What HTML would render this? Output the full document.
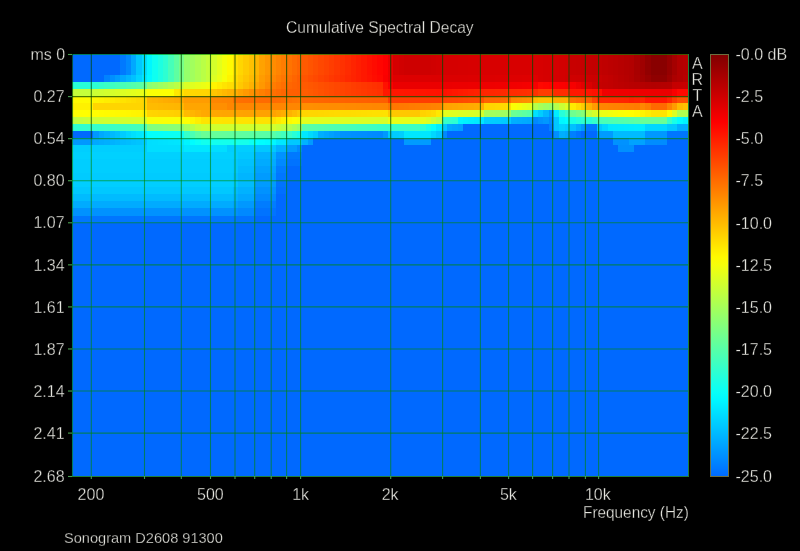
<!DOCTYPE html>
<html><head><meta charset="utf-8"><title>Cumulative Spectral Decay</title><style>
html,body{margin:0;padding:0;background:#000;}
body{width:800px;height:551px;overflow:hidden;position:relative;font-family:"Liberation Sans",Arial,sans-serif;color:#e4e4de;}
.t{position:absolute;white-space:pre;line-height:1;font-size:16px;transform-origin:0 0;-webkit-text-stroke:0.3px #000;}
svg{position:absolute;left:0;top:0;}
</style></head><body>
<svg width="800" height="551" viewBox="0 0 800 551" shape-rendering="crispEdges">
<defs><linearGradient id="cb" x1="0" y1="0" x2="0" y2="1"><stop offset="0.000" stop-color="#800000"/><stop offset="0.020" stop-color="#8f0000"/><stop offset="0.040" stop-color="#9f0000"/><stop offset="0.060" stop-color="#af0000"/><stop offset="0.080" stop-color="#be0000"/><stop offset="0.100" stop-color="#ce0000"/><stop offset="0.120" stop-color="#de0000"/><stop offset="0.140" stop-color="#ee0000"/><stop offset="0.160" stop-color="#fd0000"/><stop offset="0.180" stop-color="#ff0e00"/><stop offset="0.200" stop-color="#ff1e00"/><stop offset="0.220" stop-color="#ff2e00"/><stop offset="0.240" stop-color="#ff3d00"/><stop offset="0.260" stop-color="#ff4d00"/><stop offset="0.280" stop-color="#ff5d00"/><stop offset="0.300" stop-color="#ff6d00"/><stop offset="0.320" stop-color="#ff7c00"/><stop offset="0.340" stop-color="#ff8c00"/><stop offset="0.360" stop-color="#ff9c00"/><stop offset="0.380" stop-color="#ffac00"/><stop offset="0.400" stop-color="#ffbb00"/><stop offset="0.420" stop-color="#ffcb00"/><stop offset="0.440" stop-color="#ffdb00"/><stop offset="0.460" stop-color="#ffeb00"/><stop offset="0.480" stop-color="#fffa00"/><stop offset="0.500" stop-color="#f4ff0b"/><stop offset="0.520" stop-color="#e4ff1b"/><stop offset="0.540" stop-color="#d4ff2b"/><stop offset="0.560" stop-color="#c5ff3a"/><stop offset="0.580" stop-color="#b5ff4a"/><stop offset="0.600" stop-color="#a5ff5a"/><stop offset="0.620" stop-color="#95ff6a"/><stop offset="0.640" stop-color="#86ff79"/><stop offset="0.660" stop-color="#76ff89"/><stop offset="0.680" stop-color="#66ff99"/><stop offset="0.700" stop-color="#56ffa9"/><stop offset="0.720" stop-color="#47ffb8"/><stop offset="0.740" stop-color="#37ffc8"/><stop offset="0.760" stop-color="#27ffd8"/><stop offset="0.780" stop-color="#17ffe8"/><stop offset="0.800" stop-color="#08fff7"/><stop offset="0.820" stop-color="#00f7ff"/><stop offset="0.840" stop-color="#00e7ff"/><stop offset="0.860" stop-color="#00d7ff"/><stop offset="0.880" stop-color="#00c8ff"/><stop offset="0.900" stop-color="#00b8ff"/><stop offset="0.920" stop-color="#00a8ff"/><stop offset="0.940" stop-color="#0098ff"/><stop offset="0.960" stop-color="#0089ff"/><stop offset="0.980" stop-color="#0079ff"/><stop offset="1.000" stop-color="#0069ff"/></linearGradient></defs>
<g>
<g><rect x="72.0" y="54.0" width="616.0" height="422.0" fill="#0069ff"/>
<rect x="120.21" y="54.00" width="5.36" height="6.78" fill="#0079ff"/>
<rect x="125.57" y="54.00" width="5.36" height="6.78" fill="#0089ff"/>
<rect x="130.92" y="54.00" width="5.36" height="6.78" fill="#00a8ff"/>
<rect x="136.28" y="54.00" width="5.36" height="6.78" fill="#00c8ff"/>
<rect x="141.63" y="54.00" width="5.36" height="6.78" fill="#00deff"/>
<rect x="146.99" y="54.00" width="5.36" height="6.78" fill="#00f7ff"/>
<rect x="152.35" y="54.00" width="5.36" height="6.78" fill="#0efff1"/>
<rect x="157.70" y="54.00" width="5.36" height="6.78" fill="#1effe1"/>
<rect x="163.06" y="54.00" width="5.36" height="6.78" fill="#2dffd2"/>
<rect x="168.42" y="54.00" width="5.36" height="6.78" fill="#46ffb9"/>
<rect x="173.77" y="54.00" width="5.36" height="6.78" fill="#5effa1"/>
<rect x="179.13" y="54.00" width="5.36" height="6.78" fill="#76ff89"/>
<rect x="184.49" y="54.00" width="5.36" height="6.78" fill="#95ff6a"/>
<rect x="189.84" y="54.00" width="5.36" height="6.78" fill="#a1ff5e"/>
<rect x="195.20" y="54.00" width="5.36" height="6.78" fill="#adff52"/>
<rect x="200.56" y="54.00" width="5.36" height="6.78" fill="#b9ff46"/>
<rect x="205.91" y="54.00" width="5.36" height="6.78" fill="#c5ff3a"/>
<rect x="211.27" y="54.00" width="5.36" height="6.78" fill="#d4ff2b"/>
<rect x="216.63" y="54.00" width="5.36" height="6.78" fill="#e4ff1b"/>
<rect x="221.98" y="54.00" width="5.36" height="6.78" fill="#f4ff0b"/>
<rect x="227.34" y="54.00" width="5.36" height="6.78" fill="#fffa00"/>
<rect x="232.70" y="54.00" width="5.36" height="6.78" fill="#ffe100"/>
<rect x="238.05" y="54.00" width="5.36" height="6.78" fill="#ffd600"/>
<rect x="243.41" y="54.00" width="5.36" height="6.78" fill="#ffcb00"/>
<rect x="248.77" y="54.00" width="5.36" height="6.78" fill="#ffc000"/>
<rect x="254.12" y="54.00" width="5.36" height="6.78" fill="#ffb500"/>
<rect x="259.48" y="54.00" width="5.36" height="6.78" fill="#ffa200"/>
<rect x="264.83" y="54.00" width="5.36" height="6.78" fill="#ff9700"/>
<rect x="270.19" y="54.00" width="5.36" height="6.78" fill="#ff8c00"/>
<rect x="275.55" y="54.00" width="5.36" height="6.78" fill="#ff8400"/>
<rect x="280.90" y="54.00" width="5.36" height="6.78" fill="#ff7c00"/>
<rect x="286.26" y="54.00" width="5.36" height="6.78" fill="#ff7300"/>
<rect x="291.62" y="54.00" width="5.36" height="6.78" fill="#ff6b00"/>
<rect x="296.97" y="54.00" width="5.36" height="6.78" fill="#ff6300"/>
<rect x="302.33" y="54.00" width="5.36" height="6.78" fill="#ff5a00"/>
<rect x="307.69" y="54.00" width="5.36" height="6.78" fill="#ff5400"/>
<rect x="313.04" y="54.00" width="5.36" height="6.78" fill="#ff4e00"/>
<rect x="318.40" y="54.00" width="5.36" height="6.78" fill="#ff4800"/>
<rect x="323.76" y="54.00" width="5.36" height="6.78" fill="#ff4300"/>
<rect x="329.11" y="54.00" width="5.36" height="6.78" fill="#ff3d00"/>
<rect x="334.47" y="54.00" width="5.36" height="6.78" fill="#ff3700"/>
<rect x="339.83" y="54.00" width="5.36" height="6.78" fill="#ff3100"/>
<rect x="345.18" y="54.00" width="5.36" height="6.78" fill="#ff2b00"/>
<rect x="350.54" y="54.00" width="5.36" height="6.78" fill="#ff2400"/>
<rect x="355.90" y="54.00" width="5.36" height="6.78" fill="#ff1e00"/>
<rect x="361.25" y="54.00" width="5.36" height="6.78" fill="#ff1800"/>
<rect x="366.61" y="54.00" width="5.36" height="6.78" fill="#ff1100"/>
<rect x="371.97" y="54.00" width="5.36" height="6.78" fill="#ff0b00"/>
<rect x="377.32" y="54.00" width="5.36" height="6.78" fill="#ff0500"/>
<rect x="382.68" y="54.00" width="5.36" height="6.78" fill="#fd0000"/>
<rect x="388.03" y="54.00" width="5.36" height="6.78" fill="#eb0000"/>
<rect x="393.39" y="54.00" width="5.36" height="6.78" fill="#d50000"/>
<rect x="398.75" y="54.00" width="5.36" height="6.78" fill="#d10000"/>
<rect x="404.10" y="54.00" width="26.78" height="6.78" fill="#ce0000"/>
<rect x="430.89" y="54.00" width="5.36" height="6.78" fill="#d00000"/>
<rect x="436.24" y="54.00" width="5.36" height="6.78" fill="#d20000"/>
<rect x="441.60" y="54.00" width="16.07" height="6.78" fill="#d50000"/>
<rect x="457.67" y="54.00" width="10.71" height="6.78" fill="#d60000"/>
<rect x="468.38" y="54.00" width="10.71" height="6.78" fill="#d70000"/>
<rect x="479.10" y="54.00" width="58.92" height="6.78" fill="#d80000"/>
<rect x="538.02" y="54.00" width="5.36" height="6.78" fill="#d70000"/>
<rect x="543.37" y="54.00" width="10.71" height="6.78" fill="#d50000"/>
<rect x="554.09" y="54.00" width="5.36" height="6.78" fill="#d40000"/>
<rect x="559.44" y="54.00" width="5.36" height="6.78" fill="#d20000"/>
<rect x="564.80" y="54.00" width="5.36" height="6.78" fill="#d10000"/>
<rect x="570.16" y="54.00" width="5.36" height="6.78" fill="#c80000"/>
<rect x="575.51" y="54.00" width="5.36" height="6.78" fill="#c70000"/>
<rect x="580.87" y="54.00" width="5.36" height="6.78" fill="#c50000"/>
<rect x="586.23" y="54.00" width="5.36" height="6.78" fill="#c40000"/>
<rect x="591.58" y="54.00" width="5.36" height="6.78" fill="#c30000"/>
<rect x="596.94" y="54.00" width="5.36" height="6.78" fill="#c20000"/>
<rect x="602.30" y="54.00" width="5.36" height="6.78" fill="#bf0000"/>
<rect x="607.65" y="54.00" width="5.36" height="6.78" fill="#bc0000"/>
<rect x="613.01" y="54.00" width="5.36" height="6.78" fill="#ba0000"/>
<rect x="618.37" y="54.00" width="5.36" height="6.78" fill="#b70000"/>
<rect x="623.72" y="54.00" width="5.36" height="6.78" fill="#b40000"/>
<rect x="629.08" y="54.00" width="5.36" height="6.78" fill="#b20000"/>
<rect x="634.43" y="54.00" width="5.36" height="6.78" fill="#a80000"/>
<rect x="639.79" y="54.00" width="5.36" height="6.78" fill="#9f0000"/>
<rect x="645.15" y="54.00" width="5.36" height="6.78" fill="#920000"/>
<rect x="650.50" y="54.00" width="16.07" height="6.78" fill="#890000"/>
<rect x="666.57" y="54.00" width="5.36" height="6.78" fill="#960000"/>
<rect x="671.93" y="54.00" width="5.36" height="6.78" fill="#a50000"/>
<rect x="677.29" y="54.00" width="5.36" height="6.78" fill="#b20000"/>
<rect x="682.64" y="54.00" width="5.36" height="6.78" fill="#b50000"/>
<rect x="120.21" y="60.78" width="5.36" height="7.03" fill="#0079ff"/>
<rect x="125.57" y="60.78" width="5.36" height="7.03" fill="#0089ff"/>
<rect x="130.92" y="60.78" width="5.36" height="7.03" fill="#00a8ff"/>
<rect x="136.28" y="60.78" width="5.36" height="7.03" fill="#00c8ff"/>
<rect x="141.63" y="60.78" width="5.36" height="7.03" fill="#00deff"/>
<rect x="146.99" y="60.78" width="5.36" height="7.03" fill="#00f7ff"/>
<rect x="152.35" y="60.78" width="5.36" height="7.03" fill="#0efff1"/>
<rect x="157.70" y="60.78" width="5.36" height="7.03" fill="#1effe1"/>
<rect x="163.06" y="60.78" width="5.36" height="7.03" fill="#2dffd2"/>
<rect x="168.42" y="60.78" width="5.36" height="7.03" fill="#46ffb9"/>
<rect x="173.77" y="60.78" width="5.36" height="7.03" fill="#5effa1"/>
<rect x="179.13" y="60.78" width="5.36" height="7.03" fill="#76ff89"/>
<rect x="184.49" y="60.78" width="5.36" height="7.03" fill="#95ff6a"/>
<rect x="189.84" y="60.78" width="5.36" height="7.03" fill="#a1ff5e"/>
<rect x="195.20" y="60.78" width="5.36" height="7.03" fill="#adff52"/>
<rect x="200.56" y="60.78" width="5.36" height="7.03" fill="#b9ff46"/>
<rect x="205.91" y="60.78" width="5.36" height="7.03" fill="#c5ff3a"/>
<rect x="211.27" y="60.78" width="5.36" height="7.03" fill="#d4ff2b"/>
<rect x="216.63" y="60.78" width="5.36" height="7.03" fill="#e4ff1b"/>
<rect x="221.98" y="60.78" width="5.36" height="7.03" fill="#f4ff0b"/>
<rect x="227.34" y="60.78" width="5.36" height="7.03" fill="#fffa00"/>
<rect x="232.70" y="60.78" width="5.36" height="7.03" fill="#ffe100"/>
<rect x="238.05" y="60.78" width="5.36" height="7.03" fill="#ffd600"/>
<rect x="243.41" y="60.78" width="5.36" height="7.03" fill="#ffcb00"/>
<rect x="248.77" y="60.78" width="5.36" height="7.03" fill="#ffc000"/>
<rect x="254.12" y="60.78" width="5.36" height="7.03" fill="#ffb500"/>
<rect x="259.48" y="60.78" width="5.36" height="7.03" fill="#ffa200"/>
<rect x="264.83" y="60.78" width="5.36" height="7.03" fill="#ff9700"/>
<rect x="270.19" y="60.78" width="5.36" height="7.03" fill="#ff8c00"/>
<rect x="275.55" y="60.78" width="5.36" height="7.03" fill="#ff8400"/>
<rect x="280.90" y="60.78" width="5.36" height="7.03" fill="#ff7c00"/>
<rect x="286.26" y="60.78" width="5.36" height="7.03" fill="#ff7300"/>
<rect x="291.62" y="60.78" width="5.36" height="7.03" fill="#ff6b00"/>
<rect x="296.97" y="60.78" width="5.36" height="7.03" fill="#ff6300"/>
<rect x="302.33" y="60.78" width="5.36" height="7.03" fill="#ff5a00"/>
<rect x="307.69" y="60.78" width="5.36" height="7.03" fill="#ff5400"/>
<rect x="313.04" y="60.78" width="5.36" height="7.03" fill="#ff4e00"/>
<rect x="318.40" y="60.78" width="5.36" height="7.03" fill="#ff4800"/>
<rect x="323.76" y="60.78" width="5.36" height="7.03" fill="#ff4300"/>
<rect x="329.11" y="60.78" width="5.36" height="7.03" fill="#ff3d00"/>
<rect x="334.47" y="60.78" width="5.36" height="7.03" fill="#ff3700"/>
<rect x="339.83" y="60.78" width="5.36" height="7.03" fill="#ff3100"/>
<rect x="345.18" y="60.78" width="5.36" height="7.03" fill="#ff2b00"/>
<rect x="350.54" y="60.78" width="5.36" height="7.03" fill="#ff2400"/>
<rect x="355.90" y="60.78" width="5.36" height="7.03" fill="#ff1e00"/>
<rect x="361.25" y="60.78" width="5.36" height="7.03" fill="#ff1800"/>
<rect x="366.61" y="60.78" width="5.36" height="7.03" fill="#ff1100"/>
<rect x="371.97" y="60.78" width="5.36" height="7.03" fill="#ff0b00"/>
<rect x="377.32" y="60.78" width="5.36" height="7.03" fill="#ff0500"/>
<rect x="382.68" y="60.78" width="5.36" height="7.03" fill="#fd0000"/>
<rect x="388.03" y="60.78" width="5.36" height="7.03" fill="#eb0000"/>
<rect x="393.39" y="60.78" width="5.36" height="7.03" fill="#d50000"/>
<rect x="398.75" y="60.78" width="5.36" height="7.03" fill="#d10000"/>
<rect x="404.10" y="60.78" width="26.78" height="7.03" fill="#ce0000"/>
<rect x="430.89" y="60.78" width="5.36" height="7.03" fill="#d00000"/>
<rect x="436.24" y="60.78" width="5.36" height="7.03" fill="#d20000"/>
<rect x="441.60" y="60.78" width="16.07" height="7.03" fill="#d50000"/>
<rect x="457.67" y="60.78" width="10.71" height="7.03" fill="#d60000"/>
<rect x="468.38" y="60.78" width="10.71" height="7.03" fill="#d70000"/>
<rect x="479.10" y="60.78" width="58.92" height="7.03" fill="#d80000"/>
<rect x="538.02" y="60.78" width="5.36" height="7.03" fill="#d70000"/>
<rect x="543.37" y="60.78" width="10.71" height="7.03" fill="#d50000"/>
<rect x="554.09" y="60.78" width="5.36" height="7.03" fill="#d40000"/>
<rect x="559.44" y="60.78" width="5.36" height="7.03" fill="#d20000"/>
<rect x="564.80" y="60.78" width="5.36" height="7.03" fill="#d10000"/>
<rect x="570.16" y="60.78" width="5.36" height="7.03" fill="#c80000"/>
<rect x="575.51" y="60.78" width="5.36" height="7.03" fill="#c70000"/>
<rect x="580.87" y="60.78" width="5.36" height="7.03" fill="#c50000"/>
<rect x="586.23" y="60.78" width="5.36" height="7.03" fill="#c40000"/>
<rect x="591.58" y="60.78" width="5.36" height="7.03" fill="#c30000"/>
<rect x="596.94" y="60.78" width="5.36" height="7.03" fill="#c20000"/>
<rect x="602.30" y="60.78" width="5.36" height="7.03" fill="#bf0000"/>
<rect x="607.65" y="60.78" width="5.36" height="7.03" fill="#bc0000"/>
<rect x="613.01" y="60.78" width="5.36" height="7.03" fill="#ba0000"/>
<rect x="618.37" y="60.78" width="5.36" height="7.03" fill="#b70000"/>
<rect x="623.72" y="60.78" width="5.36" height="7.03" fill="#b40000"/>
<rect x="629.08" y="60.78" width="5.36" height="7.03" fill="#b20000"/>
<rect x="634.43" y="60.78" width="5.36" height="7.03" fill="#a80000"/>
<rect x="639.79" y="60.78" width="5.36" height="7.03" fill="#9f0000"/>
<rect x="645.15" y="60.78" width="5.36" height="7.03" fill="#920000"/>
<rect x="650.50" y="60.78" width="16.07" height="7.03" fill="#890000"/>
<rect x="666.57" y="60.78" width="5.36" height="7.03" fill="#960000"/>
<rect x="671.93" y="60.78" width="5.36" height="7.03" fill="#a50000"/>
<rect x="677.29" y="60.78" width="5.36" height="7.03" fill="#b20000"/>
<rect x="682.64" y="60.78" width="5.36" height="7.03" fill="#b50000"/>
<rect x="120.21" y="67.82" width="5.36" height="7.03" fill="#0079ff"/>
<rect x="125.57" y="67.82" width="5.36" height="7.03" fill="#0089ff"/>
<rect x="130.92" y="67.82" width="5.36" height="7.03" fill="#00a8ff"/>
<rect x="136.28" y="67.82" width="5.36" height="7.03" fill="#00c8ff"/>
<rect x="141.63" y="67.82" width="5.36" height="7.03" fill="#00deff"/>
<rect x="146.99" y="67.82" width="5.36" height="7.03" fill="#00f7ff"/>
<rect x="152.35" y="67.82" width="5.36" height="7.03" fill="#0efff1"/>
<rect x="157.70" y="67.82" width="5.36" height="7.03" fill="#1effe1"/>
<rect x="163.06" y="67.82" width="5.36" height="7.03" fill="#2dffd2"/>
<rect x="168.42" y="67.82" width="5.36" height="7.03" fill="#46ffb9"/>
<rect x="173.77" y="67.82" width="5.36" height="7.03" fill="#5effa1"/>
<rect x="179.13" y="67.82" width="5.36" height="7.03" fill="#76ff89"/>
<rect x="184.49" y="67.82" width="5.36" height="7.03" fill="#95ff6a"/>
<rect x="189.84" y="67.82" width="5.36" height="7.03" fill="#a1ff5e"/>
<rect x="195.20" y="67.82" width="5.36" height="7.03" fill="#adff52"/>
<rect x="200.56" y="67.82" width="5.36" height="7.03" fill="#b9ff46"/>
<rect x="205.91" y="67.82" width="5.36" height="7.03" fill="#c5ff3a"/>
<rect x="211.27" y="67.82" width="5.36" height="7.03" fill="#d4ff2b"/>
<rect x="216.63" y="67.82" width="5.36" height="7.03" fill="#e4ff1b"/>
<rect x="221.98" y="67.82" width="5.36" height="7.03" fill="#f4ff0b"/>
<rect x="227.34" y="67.82" width="5.36" height="7.03" fill="#fffa00"/>
<rect x="232.70" y="67.82" width="5.36" height="7.03" fill="#ffe100"/>
<rect x="238.05" y="67.82" width="5.36" height="7.03" fill="#ffd600"/>
<rect x="243.41" y="67.82" width="5.36" height="7.03" fill="#ffcb00"/>
<rect x="248.77" y="67.82" width="5.36" height="7.03" fill="#ffc000"/>
<rect x="254.12" y="67.82" width="5.36" height="7.03" fill="#ffb500"/>
<rect x="259.48" y="67.82" width="5.36" height="7.03" fill="#ffa200"/>
<rect x="264.83" y="67.82" width="5.36" height="7.03" fill="#ff9700"/>
<rect x="270.19" y="67.82" width="5.36" height="7.03" fill="#ff8c00"/>
<rect x="275.55" y="67.82" width="5.36" height="7.03" fill="#ff8400"/>
<rect x="280.90" y="67.82" width="5.36" height="7.03" fill="#ff7c00"/>
<rect x="286.26" y="67.82" width="5.36" height="7.03" fill="#ff7300"/>
<rect x="291.62" y="67.82" width="5.36" height="7.03" fill="#ff6b00"/>
<rect x="296.97" y="67.82" width="5.36" height="7.03" fill="#ff6300"/>
<rect x="302.33" y="67.82" width="5.36" height="7.03" fill="#ff5a00"/>
<rect x="307.69" y="67.82" width="5.36" height="7.03" fill="#ff5400"/>
<rect x="313.04" y="67.82" width="5.36" height="7.03" fill="#ff4e00"/>
<rect x="318.40" y="67.82" width="5.36" height="7.03" fill="#ff4800"/>
<rect x="323.76" y="67.82" width="5.36" height="7.03" fill="#ff4300"/>
<rect x="329.11" y="67.82" width="5.36" height="7.03" fill="#ff3d00"/>
<rect x="334.47" y="67.82" width="5.36" height="7.03" fill="#ff3700"/>
<rect x="339.83" y="67.82" width="5.36" height="7.03" fill="#ff3100"/>
<rect x="345.18" y="67.82" width="5.36" height="7.03" fill="#ff2b00"/>
<rect x="350.54" y="67.82" width="5.36" height="7.03" fill="#ff2400"/>
<rect x="355.90" y="67.82" width="5.36" height="7.03" fill="#ff1e00"/>
<rect x="361.25" y="67.82" width="5.36" height="7.03" fill="#ff1800"/>
<rect x="366.61" y="67.82" width="5.36" height="7.03" fill="#ff1100"/>
<rect x="371.97" y="67.82" width="5.36" height="7.03" fill="#ff0b00"/>
<rect x="377.32" y="67.82" width="5.36" height="7.03" fill="#ff0500"/>
<rect x="382.68" y="67.82" width="5.36" height="7.03" fill="#fd0000"/>
<rect x="388.03" y="67.82" width="5.36" height="7.03" fill="#eb0000"/>
<rect x="393.39" y="67.82" width="5.36" height="7.03" fill="#d50000"/>
<rect x="398.75" y="67.82" width="5.36" height="7.03" fill="#d10000"/>
<rect x="404.10" y="67.82" width="26.78" height="7.03" fill="#ce0000"/>
<rect x="430.89" y="67.82" width="5.36" height="7.03" fill="#d00000"/>
<rect x="436.24" y="67.82" width="5.36" height="7.03" fill="#d20000"/>
<rect x="441.60" y="67.82" width="16.07" height="7.03" fill="#d50000"/>
<rect x="457.67" y="67.82" width="10.71" height="7.03" fill="#d60000"/>
<rect x="468.38" y="67.82" width="10.71" height="7.03" fill="#d70000"/>
<rect x="479.10" y="67.82" width="58.92" height="7.03" fill="#d80000"/>
<rect x="538.02" y="67.82" width="5.36" height="7.03" fill="#d70000"/>
<rect x="543.37" y="67.82" width="10.71" height="7.03" fill="#d50000"/>
<rect x="554.09" y="67.82" width="5.36" height="7.03" fill="#d40000"/>
<rect x="559.44" y="67.82" width="5.36" height="7.03" fill="#d20000"/>
<rect x="564.80" y="67.82" width="5.36" height="7.03" fill="#d10000"/>
<rect x="570.16" y="67.82" width="5.36" height="7.03" fill="#c80000"/>
<rect x="575.51" y="67.82" width="5.36" height="7.03" fill="#c70000"/>
<rect x="580.87" y="67.82" width="5.36" height="7.03" fill="#c50000"/>
<rect x="586.23" y="67.82" width="5.36" height="7.03" fill="#c40000"/>
<rect x="591.58" y="67.82" width="5.36" height="7.03" fill="#c30000"/>
<rect x="596.94" y="67.82" width="5.36" height="7.03" fill="#c20000"/>
<rect x="602.30" y="67.82" width="5.36" height="7.03" fill="#bf0000"/>
<rect x="607.65" y="67.82" width="5.36" height="7.03" fill="#bc0000"/>
<rect x="613.01" y="67.82" width="5.36" height="7.03" fill="#ba0000"/>
<rect x="618.37" y="67.82" width="5.36" height="7.03" fill="#b70000"/>
<rect x="623.72" y="67.82" width="5.36" height="7.03" fill="#b40000"/>
<rect x="629.08" y="67.82" width="5.36" height="7.03" fill="#b20000"/>
<rect x="634.43" y="67.82" width="5.36" height="7.03" fill="#a80000"/>
<rect x="639.79" y="67.82" width="5.36" height="7.03" fill="#9f0000"/>
<rect x="645.15" y="67.82" width="5.36" height="7.03" fill="#920000"/>
<rect x="650.50" y="67.82" width="16.07" height="7.03" fill="#890000"/>
<rect x="666.57" y="67.82" width="5.36" height="7.03" fill="#960000"/>
<rect x="671.93" y="67.82" width="5.36" height="7.03" fill="#a50000"/>
<rect x="677.29" y="67.82" width="5.36" height="7.03" fill="#b20000"/>
<rect x="682.64" y="67.82" width="5.36" height="7.03" fill="#b50000"/>
<rect x="104.14" y="74.85" width="5.36" height="7.03" fill="#0082ff"/>
<rect x="109.50" y="74.85" width="5.36" height="7.03" fill="#008fff"/>
<rect x="114.85" y="74.85" width="5.36" height="7.03" fill="#009bff"/>
<rect x="120.21" y="74.85" width="5.36" height="7.03" fill="#00a8ff"/>
<rect x="125.57" y="74.85" width="5.36" height="7.03" fill="#00b5ff"/>
<rect x="130.92" y="74.85" width="5.36" height="7.03" fill="#00c1ff"/>
<rect x="136.28" y="74.85" width="5.36" height="7.03" fill="#00d4ff"/>
<rect x="141.63" y="74.85" width="5.36" height="7.03" fill="#00e7ff"/>
<rect x="146.99" y="74.85" width="5.36" height="7.03" fill="#00faff"/>
<rect x="152.35" y="74.85" width="5.36" height="7.03" fill="#0efff1"/>
<rect x="157.70" y="74.85" width="5.36" height="7.03" fill="#1effe1"/>
<rect x="163.06" y="74.85" width="5.36" height="7.03" fill="#2dffd2"/>
<rect x="168.42" y="74.85" width="5.36" height="7.03" fill="#46ffb9"/>
<rect x="173.77" y="74.85" width="5.36" height="7.03" fill="#5effa1"/>
<rect x="179.13" y="74.85" width="5.36" height="7.03" fill="#76ff89"/>
<rect x="184.49" y="74.85" width="5.36" height="7.03" fill="#95ff6a"/>
<rect x="189.84" y="74.85" width="5.36" height="7.03" fill="#a1ff5e"/>
<rect x="195.20" y="74.85" width="5.36" height="7.03" fill="#adff52"/>
<rect x="200.56" y="74.85" width="5.36" height="7.03" fill="#b9ff46"/>
<rect x="205.91" y="74.85" width="5.36" height="7.03" fill="#c5ff3a"/>
<rect x="211.27" y="74.85" width="5.36" height="7.03" fill="#dbff24"/>
<rect x="216.63" y="74.85" width="5.36" height="7.03" fill="#e9ff16"/>
<rect x="221.98" y="74.85" width="5.36" height="7.03" fill="#f7ff08"/>
<rect x="227.34" y="74.85" width="5.36" height="7.03" fill="#fff400"/>
<rect x="232.70" y="74.85" width="5.36" height="7.03" fill="#ffdb00"/>
<rect x="238.05" y="74.85" width="5.36" height="7.03" fill="#ffd000"/>
<rect x="243.41" y="74.85" width="5.36" height="7.03" fill="#ffc500"/>
<rect x="248.77" y="74.85" width="5.36" height="7.03" fill="#ffba00"/>
<rect x="254.12" y="74.85" width="5.36" height="7.03" fill="#ffaf00"/>
<rect x="259.48" y="74.85" width="5.36" height="7.03" fill="#ff9c00"/>
<rect x="264.83" y="74.85" width="5.36" height="7.03" fill="#ff9100"/>
<rect x="270.19" y="74.85" width="5.36" height="7.03" fill="#ff8600"/>
<rect x="275.55" y="74.85" width="5.36" height="7.03" fill="#ff7d00"/>
<rect x="280.90" y="74.85" width="5.36" height="7.03" fill="#ff7500"/>
<rect x="286.26" y="74.85" width="5.36" height="7.03" fill="#ff6d00"/>
<rect x="291.62" y="74.85" width="5.36" height="7.03" fill="#ff6500"/>
<rect x="296.97" y="74.85" width="5.36" height="7.03" fill="#ff5d00"/>
<rect x="302.33" y="74.85" width="5.36" height="7.03" fill="#ff5400"/>
<rect x="307.69" y="74.85" width="5.36" height="7.03" fill="#ff4e00"/>
<rect x="313.04" y="74.85" width="5.36" height="7.03" fill="#ff4900"/>
<rect x="318.40" y="74.85" width="5.36" height="7.03" fill="#ff4300"/>
<rect x="323.76" y="74.85" width="5.36" height="7.03" fill="#ff3e00"/>
<rect x="329.11" y="74.85" width="5.36" height="7.03" fill="#ff3800"/>
<rect x="334.47" y="74.85" width="5.36" height="7.03" fill="#ff3300"/>
<rect x="339.83" y="74.85" width="5.36" height="7.03" fill="#ff2e00"/>
<rect x="345.18" y="74.85" width="5.36" height="7.03" fill="#ff2800"/>
<rect x="350.54" y="74.85" width="5.36" height="7.03" fill="#ff2300"/>
<rect x="355.90" y="74.85" width="5.36" height="7.03" fill="#ff1e00"/>
<rect x="361.25" y="74.85" width="5.36" height="7.03" fill="#ff1800"/>
<rect x="366.61" y="74.85" width="5.36" height="7.03" fill="#ff1300"/>
<rect x="371.97" y="74.85" width="5.36" height="7.03" fill="#ff0d00"/>
<rect x="377.32" y="74.85" width="5.36" height="7.03" fill="#ff0800"/>
<rect x="382.68" y="74.85" width="5.36" height="7.03" fill="#fa0000"/>
<rect x="388.03" y="74.85" width="5.36" height="7.03" fill="#ec0000"/>
<rect x="393.39" y="74.85" width="10.71" height="7.03" fill="#de0000"/>
<rect x="404.10" y="74.85" width="16.07" height="7.03" fill="#dd0000"/>
<rect x="420.17" y="74.85" width="10.71" height="7.03" fill="#dc0000"/>
<rect x="430.89" y="74.85" width="37.50" height="7.03" fill="#db0000"/>
<rect x="468.38" y="74.85" width="26.78" height="7.03" fill="#dc0000"/>
<rect x="495.17" y="74.85" width="26.78" height="7.03" fill="#dd0000"/>
<rect x="521.95" y="74.85" width="16.07" height="7.03" fill="#de0000"/>
<rect x="538.02" y="74.85" width="5.36" height="7.03" fill="#d80000"/>
<rect x="543.37" y="74.85" width="5.36" height="7.03" fill="#d60000"/>
<rect x="548.73" y="74.85" width="5.36" height="7.03" fill="#d50000"/>
<rect x="554.09" y="74.85" width="5.36" height="7.03" fill="#d30000"/>
<rect x="559.44" y="74.85" width="5.36" height="7.03" fill="#d20000"/>
<rect x="564.80" y="74.85" width="5.36" height="7.03" fill="#d00000"/>
<rect x="570.16" y="74.85" width="5.36" height="7.03" fill="#cf0000"/>
<rect x="575.51" y="74.85" width="5.36" height="7.03" fill="#ce0000"/>
<rect x="580.87" y="74.85" width="5.36" height="7.03" fill="#cc0000"/>
<rect x="586.23" y="74.85" width="5.36" height="7.03" fill="#cb0000"/>
<rect x="591.58" y="74.85" width="5.36" height="7.03" fill="#ca0000"/>
<rect x="596.94" y="74.85" width="5.36" height="7.03" fill="#c80000"/>
<rect x="602.30" y="74.85" width="5.36" height="7.03" fill="#c40000"/>
<rect x="607.65" y="74.85" width="5.36" height="7.03" fill="#c10000"/>
<rect x="613.01" y="74.85" width="5.36" height="7.03" fill="#bd0000"/>
<rect x="618.37" y="74.85" width="5.36" height="7.03" fill="#b90000"/>
<rect x="623.72" y="74.85" width="5.36" height="7.03" fill="#b60000"/>
<rect x="629.08" y="74.85" width="5.36" height="7.03" fill="#b20000"/>
<rect x="634.43" y="74.85" width="5.36" height="7.03" fill="#aa0000"/>
<rect x="639.79" y="74.85" width="5.36" height="7.03" fill="#a20000"/>
<rect x="645.15" y="74.85" width="5.36" height="7.03" fill="#990000"/>
<rect x="650.50" y="74.85" width="16.07" height="7.03" fill="#8f0000"/>
<rect x="666.57" y="74.85" width="5.36" height="7.03" fill="#9c0000"/>
<rect x="671.93" y="74.85" width="5.36" height="7.03" fill="#ac0000"/>
<rect x="677.29" y="74.85" width="5.36" height="7.03" fill="#b20000"/>
<rect x="682.64" y="74.85" width="5.36" height="7.03" fill="#b80000"/>
<rect x="72.00" y="81.88" width="21.43" height="7.03" fill="#27ffd8"/>
<rect x="93.43" y="81.88" width="5.36" height="7.03" fill="#2dffd2"/>
<rect x="98.78" y="81.88" width="5.36" height="7.03" fill="#33ffcc"/>
<rect x="104.14" y="81.88" width="5.36" height="7.03" fill="#39ffc6"/>
<rect x="109.50" y="81.88" width="5.36" height="7.03" fill="#3effc1"/>
<rect x="114.85" y="81.88" width="5.36" height="7.03" fill="#44ffbb"/>
<rect x="120.21" y="81.88" width="5.36" height="7.03" fill="#49ffb6"/>
<rect x="125.57" y="81.88" width="5.36" height="7.03" fill="#4fffb0"/>
<rect x="130.92" y="81.88" width="5.36" height="7.03" fill="#54ffab"/>
<rect x="136.28" y="81.88" width="5.36" height="7.03" fill="#5affa5"/>
<rect x="141.63" y="81.88" width="5.36" height="7.03" fill="#60ff9f"/>
<rect x="146.99" y="81.88" width="5.36" height="7.03" fill="#8cff73"/>
<rect x="152.35" y="81.88" width="5.36" height="7.03" fill="#94ff6b"/>
<rect x="157.70" y="81.88" width="5.36" height="7.03" fill="#9dff62"/>
<rect x="163.06" y="81.88" width="5.36" height="7.03" fill="#a5ff5a"/>
<rect x="168.42" y="81.88" width="5.36" height="7.03" fill="#afff50"/>
<rect x="173.77" y="81.88" width="5.36" height="7.03" fill="#baff45"/>
<rect x="179.13" y="81.88" width="5.36" height="7.03" fill="#c5ff3a"/>
<rect x="184.49" y="81.88" width="5.36" height="7.03" fill="#dbff24"/>
<rect x="189.84" y="81.88" width="5.36" height="7.03" fill="#e0ff1f"/>
<rect x="195.20" y="81.88" width="5.36" height="7.03" fill="#e6ff19"/>
<rect x="200.56" y="81.88" width="5.36" height="7.03" fill="#ebff14"/>
<rect x="205.91" y="81.88" width="5.36" height="7.03" fill="#f1ff0e"/>
<rect x="211.27" y="81.88" width="5.36" height="7.03" fill="#fff400"/>
<rect x="216.63" y="81.88" width="5.36" height="7.03" fill="#ffec00"/>
<rect x="221.98" y="81.88" width="5.36" height="7.03" fill="#ffe400"/>
<rect x="227.34" y="81.88" width="5.36" height="7.03" fill="#ffdd00"/>
<rect x="232.70" y="81.88" width="5.36" height="7.03" fill="#ffd500"/>
<rect x="238.05" y="81.88" width="5.36" height="7.03" fill="#ffc900"/>
<rect x="243.41" y="81.88" width="5.36" height="7.03" fill="#ffbd00"/>
<rect x="248.77" y="81.88" width="5.36" height="7.03" fill="#ffb100"/>
<rect x="254.12" y="81.88" width="5.36" height="7.03" fill="#ffa500"/>
<rect x="259.48" y="81.88" width="5.36" height="7.03" fill="#ff9800"/>
<rect x="264.83" y="81.88" width="5.36" height="7.03" fill="#ff8a00"/>
<rect x="270.19" y="81.88" width="5.36" height="7.03" fill="#ff7c00"/>
<rect x="275.55" y="81.88" width="5.36" height="7.03" fill="#ff7500"/>
<rect x="280.90" y="81.88" width="5.36" height="7.03" fill="#ff6e00"/>
<rect x="286.26" y="81.88" width="5.36" height="7.03" fill="#ff6600"/>
<rect x="291.62" y="81.88" width="5.36" height="7.03" fill="#ff6200"/>
<rect x="296.97" y="81.88" width="5.36" height="7.03" fill="#ff5e00"/>
<rect x="302.33" y="81.88" width="5.36" height="7.03" fill="#ff5a00"/>
<rect x="307.69" y="81.88" width="5.36" height="7.03" fill="#ff5700"/>
<rect x="313.04" y="81.88" width="5.36" height="7.03" fill="#ff5400"/>
<rect x="318.40" y="81.88" width="5.36" height="7.03" fill="#ff5000"/>
<rect x="323.76" y="81.88" width="5.36" height="7.03" fill="#ff4d00"/>
<rect x="329.11" y="81.88" width="5.36" height="7.03" fill="#ff4a00"/>
<rect x="334.47" y="81.88" width="5.36" height="7.03" fill="#ff4700"/>
<rect x="339.83" y="81.88" width="5.36" height="7.03" fill="#ff4400"/>
<rect x="345.18" y="81.88" width="5.36" height="7.03" fill="#ff4100"/>
<rect x="350.54" y="81.88" width="5.36" height="7.03" fill="#ff3d00"/>
<rect x="355.90" y="81.88" width="5.36" height="7.03" fill="#ff3a00"/>
<rect x="361.25" y="81.88" width="5.36" height="7.03" fill="#ff3700"/>
<rect x="366.61" y="81.88" width="5.36" height="7.03" fill="#ff3400"/>
<rect x="371.97" y="81.88" width="5.36" height="7.03" fill="#ff3100"/>
<rect x="377.32" y="81.88" width="5.36" height="7.03" fill="#ff2e00"/>
<rect x="382.68" y="81.88" width="5.36" height="7.03" fill="#ff1100"/>
<rect x="388.03" y="81.88" width="5.36" height="7.03" fill="#fd0000"/>
<rect x="393.39" y="81.88" width="58.92" height="7.03" fill="#eb0000"/>
<rect x="452.31" y="81.88" width="16.07" height="7.03" fill="#ec0000"/>
<rect x="468.38" y="81.88" width="10.71" height="7.03" fill="#ed0000"/>
<rect x="479.10" y="81.88" width="10.71" height="7.03" fill="#ee0000"/>
<rect x="489.81" y="81.88" width="5.36" height="7.03" fill="#ef0000"/>
<rect x="495.17" y="81.88" width="10.71" height="7.03" fill="#f00000"/>
<rect x="505.88" y="81.88" width="5.36" height="7.03" fill="#f10000"/>
<rect x="511.23" y="81.88" width="5.36" height="7.03" fill="#f20000"/>
<rect x="516.59" y="81.88" width="5.36" height="7.03" fill="#f30000"/>
<rect x="521.95" y="81.88" width="5.36" height="7.03" fill="#f50000"/>
<rect x="527.30" y="81.88" width="5.36" height="7.03" fill="#f60000"/>
<rect x="532.66" y="81.88" width="5.36" height="7.03" fill="#f70000"/>
<rect x="538.02" y="81.88" width="5.36" height="7.03" fill="#ff0800"/>
<rect x="543.37" y="81.88" width="5.36" height="7.03" fill="#ff0500"/>
<rect x="548.73" y="81.88" width="5.36" height="7.03" fill="#ff0200"/>
<rect x="554.09" y="81.88" width="5.36" height="7.03" fill="#fd0000"/>
<rect x="559.44" y="81.88" width="5.36" height="7.03" fill="#fb0000"/>
<rect x="564.80" y="81.88" width="5.36" height="7.03" fill="#f90000"/>
<rect x="570.16" y="81.88" width="5.36" height="7.03" fill="#f70000"/>
<rect x="575.51" y="81.88" width="5.36" height="7.03" fill="#ed0000"/>
<rect x="580.87" y="81.88" width="5.36" height="7.03" fill="#e30000"/>
<rect x="586.23" y="81.88" width="5.36" height="7.03" fill="#d90000"/>
<rect x="591.58" y="81.88" width="5.36" height="7.03" fill="#cf0000"/>
<rect x="596.94" y="81.88" width="5.36" height="7.03" fill="#c50000"/>
<rect x="602.30" y="81.88" width="5.36" height="7.03" fill="#c30000"/>
<rect x="607.65" y="81.88" width="5.36" height="7.03" fill="#c10000"/>
<rect x="613.01" y="81.88" width="5.36" height="7.03" fill="#be0000"/>
<rect x="618.37" y="81.88" width="5.36" height="7.03" fill="#bc0000"/>
<rect x="623.72" y="81.88" width="5.36" height="7.03" fill="#ba0000"/>
<rect x="629.08" y="81.88" width="5.36" height="7.03" fill="#b80000"/>
<rect x="634.43" y="81.88" width="5.36" height="7.03" fill="#b70000"/>
<rect x="639.79" y="81.88" width="5.36" height="7.03" fill="#b50000"/>
<rect x="645.15" y="81.88" width="5.36" height="7.03" fill="#b30000"/>
<rect x="650.50" y="81.88" width="5.36" height="7.03" fill="#b20000"/>
<rect x="655.86" y="81.88" width="5.36" height="7.03" fill="#b30000"/>
<rect x="661.22" y="81.88" width="5.36" height="7.03" fill="#b40000"/>
<rect x="666.57" y="81.88" width="5.36" height="7.03" fill="#b50000"/>
<rect x="671.93" y="81.88" width="5.36" height="7.03" fill="#c50000"/>
<rect x="677.29" y="81.88" width="5.36" height="7.03" fill="#c60000"/>
<rect x="682.64" y="81.88" width="5.36" height="7.03" fill="#c80000"/>
<rect x="72.00" y="88.92" width="21.43" height="7.03" fill="#c5ff3a"/>
<rect x="93.43" y="88.92" width="5.36" height="7.03" fill="#cbff34"/>
<rect x="98.78" y="88.92" width="5.36" height="7.03" fill="#ceff31"/>
<rect x="104.14" y="88.92" width="5.36" height="7.03" fill="#d2ff2d"/>
<rect x="109.50" y="88.92" width="5.36" height="7.03" fill="#d5ff2a"/>
<rect x="114.85" y="88.92" width="5.36" height="7.03" fill="#d9ff26"/>
<rect x="120.21" y="88.92" width="5.36" height="7.03" fill="#dcff23"/>
<rect x="125.57" y="88.92" width="5.36" height="7.03" fill="#e0ff1f"/>
<rect x="130.92" y="88.92" width="5.36" height="7.03" fill="#e3ff1c"/>
<rect x="136.28" y="88.92" width="5.36" height="7.03" fill="#e7ff18"/>
<rect x="141.63" y="88.92" width="5.36" height="7.03" fill="#eaff15"/>
<rect x="146.99" y="88.92" width="5.36" height="7.03" fill="#faff05"/>
<rect x="152.35" y="88.92" width="5.36" height="7.03" fill="#fbff04"/>
<rect x="157.70" y="88.92" width="5.36" height="7.03" fill="#fcff03"/>
<rect x="163.06" y="88.92" width="10.71" height="7.03" fill="#fdff02"/>
<rect x="173.77" y="88.92" width="5.36" height="7.03" fill="#ffe800"/>
<rect x="179.13" y="88.92" width="5.36" height="7.03" fill="#ffe100"/>
<rect x="184.49" y="88.92" width="5.36" height="7.03" fill="#ffd800"/>
<rect x="189.84" y="88.92" width="5.36" height="7.03" fill="#ffd700"/>
<rect x="195.20" y="88.92" width="10.71" height="7.03" fill="#ffd600"/>
<rect x="205.91" y="88.92" width="5.36" height="7.03" fill="#ffd500"/>
<rect x="211.27" y="88.92" width="5.36" height="7.03" fill="#ffc500"/>
<rect x="216.63" y="88.92" width="5.36" height="7.03" fill="#ffbf00"/>
<rect x="221.98" y="88.92" width="5.36" height="7.03" fill="#ffb800"/>
<rect x="227.34" y="88.92" width="5.36" height="7.03" fill="#ffb200"/>
<rect x="232.70" y="88.92" width="5.36" height="7.03" fill="#ffac00"/>
<rect x="238.05" y="88.92" width="5.36" height="7.03" fill="#ffa200"/>
<rect x="243.41" y="88.92" width="5.36" height="7.03" fill="#ff9900"/>
<rect x="248.77" y="88.92" width="5.36" height="7.03" fill="#ff8f00"/>
<rect x="254.12" y="88.92" width="5.36" height="7.03" fill="#ff8600"/>
<rect x="259.48" y="88.92" width="5.36" height="7.03" fill="#ff7f00"/>
<rect x="264.83" y="88.92" width="5.36" height="7.03" fill="#ff7700"/>
<rect x="270.19" y="88.92" width="5.36" height="7.03" fill="#ff7000"/>
<rect x="275.55" y="88.92" width="5.36" height="7.03" fill="#ff6b00"/>
<rect x="280.90" y="88.92" width="5.36" height="7.03" fill="#ff6500"/>
<rect x="286.26" y="88.92" width="5.36" height="7.03" fill="#ff6000"/>
<rect x="291.62" y="88.92" width="5.36" height="7.03" fill="#ff5f00"/>
<rect x="296.97" y="88.92" width="5.36" height="7.03" fill="#ff5e00"/>
<rect x="302.33" y="88.92" width="5.36" height="7.03" fill="#ff5d00"/>
<rect x="307.69" y="88.92" width="5.36" height="7.03" fill="#ff5a00"/>
<rect x="313.04" y="88.92" width="5.36" height="7.03" fill="#ff5600"/>
<rect x="318.40" y="88.92" width="5.36" height="7.03" fill="#ff5200"/>
<rect x="323.76" y="88.92" width="5.36" height="7.03" fill="#ff4e00"/>
<rect x="329.11" y="88.92" width="5.36" height="7.03" fill="#ff4b00"/>
<rect x="334.47" y="88.92" width="5.36" height="7.03" fill="#ff4700"/>
<rect x="339.83" y="88.92" width="5.36" height="7.03" fill="#ff4400"/>
<rect x="345.18" y="88.92" width="5.36" height="7.03" fill="#ff4100"/>
<rect x="350.54" y="88.92" width="5.36" height="7.03" fill="#ff3e00"/>
<rect x="355.90" y="88.92" width="5.36" height="7.03" fill="#ff3c00"/>
<rect x="361.25" y="88.92" width="5.36" height="7.03" fill="#ff3900"/>
<rect x="366.61" y="88.92" width="5.36" height="7.03" fill="#ff3600"/>
<rect x="371.97" y="88.92" width="5.36" height="7.03" fill="#ff3400"/>
<rect x="377.32" y="88.92" width="5.36" height="7.03" fill="#ff3100"/>
<rect x="382.68" y="88.92" width="5.36" height="7.03" fill="#ff1800"/>
<rect x="388.03" y="88.92" width="5.36" height="7.03" fill="#ff1700"/>
<rect x="393.39" y="88.92" width="10.71" height="7.03" fill="#ff1600"/>
<rect x="404.10" y="88.92" width="10.71" height="7.03" fill="#ff1500"/>
<rect x="414.82" y="88.92" width="10.71" height="7.03" fill="#ff1400"/>
<rect x="425.53" y="88.92" width="10.71" height="7.03" fill="#ff1300"/>
<rect x="436.24" y="88.92" width="5.36" height="7.03" fill="#ff1200"/>
<rect x="441.60" y="88.92" width="5.36" height="7.03" fill="#ff1100"/>
<rect x="446.96" y="88.92" width="5.36" height="7.03" fill="#ff1400"/>
<rect x="452.31" y="88.92" width="5.36" height="7.03" fill="#ff1700"/>
<rect x="457.67" y="88.92" width="5.36" height="7.03" fill="#ff1a00"/>
<rect x="463.03" y="88.92" width="5.36" height="7.03" fill="#ff1c00"/>
<rect x="468.38" y="88.92" width="5.36" height="7.03" fill="#ff1f00"/>
<rect x="473.74" y="88.92" width="5.36" height="7.03" fill="#ff2100"/>
<rect x="479.10" y="88.92" width="5.36" height="7.03" fill="#ff2400"/>
<rect x="484.45" y="88.92" width="5.36" height="7.03" fill="#ff2600"/>
<rect x="489.81" y="88.92" width="5.36" height="7.03" fill="#ff2700"/>
<rect x="495.17" y="88.92" width="5.36" height="7.03" fill="#ff2800"/>
<rect x="500.52" y="88.92" width="5.36" height="7.03" fill="#ff2900"/>
<rect x="505.88" y="88.92" width="5.36" height="7.03" fill="#ff2b00"/>
<rect x="511.23" y="88.92" width="5.36" height="7.03" fill="#ff2c00"/>
<rect x="516.59" y="88.92" width="5.36" height="7.03" fill="#ff2d00"/>
<rect x="521.95" y="88.92" width="5.36" height="7.03" fill="#ff2e00"/>
<rect x="527.30" y="88.92" width="5.36" height="7.03" fill="#ff3000"/>
<rect x="532.66" y="88.92" width="5.36" height="7.03" fill="#ff3100"/>
<rect x="538.02" y="88.92" width="16.07" height="7.03" fill="#ff3d00"/>
<rect x="554.09" y="88.92" width="16.07" height="7.03" fill="#ff2b00"/>
<rect x="570.16" y="88.92" width="16.07" height="7.03" fill="#ff1800"/>
<rect x="586.23" y="88.92" width="5.36" height="7.03" fill="#ff1500"/>
<rect x="591.58" y="88.92" width="5.36" height="7.03" fill="#ff1100"/>
<rect x="596.94" y="88.92" width="5.36" height="7.03" fill="#ff0e00"/>
<rect x="602.30" y="88.92" width="5.36" height="7.03" fill="#f10000"/>
<rect x="607.65" y="88.92" width="10.71" height="7.03" fill="#f00000"/>
<rect x="618.37" y="88.92" width="10.71" height="7.03" fill="#ef0000"/>
<rect x="629.08" y="88.92" width="10.71" height="7.03" fill="#ee0000"/>
<rect x="639.79" y="88.92" width="10.71" height="7.03" fill="#ed0000"/>
<rect x="650.50" y="88.92" width="10.71" height="7.03" fill="#ec0000"/>
<rect x="661.22" y="88.92" width="10.71" height="7.03" fill="#eb0000"/>
<rect x="671.93" y="88.92" width="5.36" height="7.03" fill="#fa0000"/>
<rect x="677.29" y="88.92" width="10.71" height="7.03" fill="#ff0800"/>
<rect x="72.00" y="95.95" width="21.43" height="7.03" fill="#fffa00"/>
<rect x="93.43" y="95.95" width="5.36" height="7.03" fill="#fff400"/>
<rect x="98.78" y="95.95" width="5.36" height="7.03" fill="#fff100"/>
<rect x="104.14" y="95.95" width="5.36" height="7.03" fill="#ffed00"/>
<rect x="109.50" y="95.95" width="5.36" height="7.03" fill="#ffea00"/>
<rect x="114.85" y="95.95" width="5.36" height="7.03" fill="#ffe600"/>
<rect x="120.21" y="95.95" width="5.36" height="7.03" fill="#ffe300"/>
<rect x="125.57" y="95.95" width="5.36" height="7.03" fill="#ffdf00"/>
<rect x="130.92" y="95.95" width="5.36" height="7.03" fill="#ffdc00"/>
<rect x="136.28" y="95.95" width="5.36" height="7.03" fill="#ffd800"/>
<rect x="141.63" y="95.95" width="5.36" height="7.03" fill="#ffd500"/>
<rect x="146.99" y="95.95" width="5.36" height="7.03" fill="#ffb500"/>
<rect x="152.35" y="95.95" width="5.36" height="7.03" fill="#ffb300"/>
<rect x="157.70" y="95.95" width="5.36" height="7.03" fill="#ffb000"/>
<rect x="163.06" y="95.95" width="5.36" height="7.03" fill="#ffad00"/>
<rect x="168.42" y="95.95" width="5.36" height="7.03" fill="#ffab00"/>
<rect x="173.77" y="95.95" width="5.36" height="7.03" fill="#ffa800"/>
<rect x="179.13" y="95.95" width="5.36" height="7.03" fill="#ffa500"/>
<rect x="184.49" y="95.95" width="26.78" height="7.03" fill="#ff9c00"/>
<rect x="211.27" y="95.95" width="5.36" height="7.03" fill="#ff8600"/>
<rect x="216.63" y="95.95" width="5.36" height="7.03" fill="#ff8500"/>
<rect x="221.98" y="95.95" width="5.36" height="7.03" fill="#ff8400"/>
<rect x="227.34" y="95.95" width="5.36" height="7.03" fill="#ff8300"/>
<rect x="232.70" y="95.95" width="5.36" height="7.03" fill="#ff7000"/>
<rect x="238.05" y="95.95" width="5.36" height="7.03" fill="#ff6f00"/>
<rect x="243.41" y="95.95" width="5.36" height="7.03" fill="#ff6e00"/>
<rect x="248.77" y="95.95" width="5.36" height="7.03" fill="#ff6d00"/>
<rect x="254.12" y="95.95" width="5.36" height="7.03" fill="#ff6c00"/>
<rect x="259.48" y="95.95" width="10.71" height="7.03" fill="#ff6b00"/>
<rect x="270.19" y="95.95" width="5.36" height="7.03" fill="#ff6a00"/>
<rect x="275.55" y="95.95" width="5.36" height="7.03" fill="#ff6c00"/>
<rect x="280.90" y="95.95" width="5.36" height="7.03" fill="#ff6f00"/>
<rect x="286.26" y="95.95" width="5.36" height="7.03" fill="#ff7100"/>
<rect x="291.62" y="95.95" width="5.36" height="7.03" fill="#ff7400"/>
<rect x="296.97" y="95.95" width="5.36" height="7.03" fill="#ff7600"/>
<rect x="302.33" y="95.95" width="10.71" height="7.03" fill="#ff6600"/>
<rect x="313.04" y="95.95" width="10.71" height="7.03" fill="#ff6500"/>
<rect x="323.76" y="95.95" width="5.36" height="7.03" fill="#ff6400"/>
<rect x="329.11" y="95.95" width="10.71" height="7.03" fill="#ff6300"/>
<rect x="339.83" y="95.95" width="5.36" height="7.03" fill="#ff6200"/>
<rect x="345.18" y="95.95" width="10.71" height="7.03" fill="#ff6100"/>
<rect x="355.90" y="95.95" width="10.71" height="7.03" fill="#ff6000"/>
<rect x="366.61" y="95.95" width="5.36" height="7.03" fill="#ff5f00"/>
<rect x="371.97" y="95.95" width="10.71" height="7.03" fill="#ff5e00"/>
<rect x="382.68" y="95.95" width="5.36" height="7.03" fill="#ff5d00"/>
<rect x="388.03" y="95.95" width="53.57" height="7.03" fill="#ff3d00"/>
<rect x="441.60" y="95.95" width="5.36" height="7.03" fill="#ff4400"/>
<rect x="446.96" y="95.95" width="5.36" height="7.03" fill="#ff4600"/>
<rect x="452.31" y="95.95" width="5.36" height="7.03" fill="#ff4700"/>
<rect x="457.67" y="95.95" width="5.36" height="7.03" fill="#ff4900"/>
<rect x="463.03" y="95.95" width="5.36" height="7.03" fill="#ff4b00"/>
<rect x="468.38" y="95.95" width="5.36" height="7.03" fill="#ff4d00"/>
<rect x="473.74" y="95.95" width="5.36" height="7.03" fill="#ff4e00"/>
<rect x="479.10" y="95.95" width="5.36" height="7.03" fill="#ff5000"/>
<rect x="484.45" y="95.95" width="5.36" height="7.03" fill="#ff6300"/>
<rect x="489.81" y="95.95" width="5.36" height="7.03" fill="#ff6500"/>
<rect x="495.17" y="95.95" width="5.36" height="7.03" fill="#ff6600"/>
<rect x="500.52" y="95.95" width="5.36" height="7.03" fill="#ff6800"/>
<rect x="505.88" y="95.95" width="5.36" height="7.03" fill="#ff6a00"/>
<rect x="511.23" y="95.95" width="5.36" height="7.03" fill="#ff8600"/>
<rect x="516.59" y="95.95" width="5.36" height="7.03" fill="#ff8900"/>
<rect x="521.95" y="95.95" width="5.36" height="7.03" fill="#ff8c00"/>
<rect x="527.30" y="95.95" width="5.36" height="7.03" fill="#ff8f00"/>
<rect x="532.66" y="95.95" width="5.36" height="7.03" fill="#ffbb00"/>
<rect x="538.02" y="95.95" width="16.07" height="7.03" fill="#ffc200"/>
<rect x="554.09" y="95.95" width="16.07" height="7.03" fill="#ffaf00"/>
<rect x="570.16" y="95.95" width="5.36" height="7.03" fill="#ff6d00"/>
<rect x="575.51" y="95.95" width="5.36" height="7.03" fill="#ff6800"/>
<rect x="580.87" y="95.95" width="5.36" height="7.03" fill="#ff6300"/>
<rect x="586.23" y="95.95" width="5.36" height="7.03" fill="#ff5d00"/>
<rect x="591.58" y="95.95" width="5.36" height="7.03" fill="#ff4200"/>
<rect x="596.94" y="95.95" width="10.71" height="7.03" fill="#ff2700"/>
<rect x="607.65" y="95.95" width="10.71" height="7.03" fill="#ff2600"/>
<rect x="618.37" y="95.95" width="5.36" height="7.03" fill="#ff2500"/>
<rect x="623.72" y="95.95" width="5.36" height="7.03" fill="#ff2400"/>
<rect x="629.08" y="95.95" width="5.36" height="7.03" fill="#ff1e00"/>
<rect x="634.43" y="95.95" width="5.36" height="7.03" fill="#ff2100"/>
<rect x="639.79" y="95.95" width="5.36" height="7.03" fill="#ff2400"/>
<rect x="645.15" y="95.95" width="21.43" height="7.03" fill="#ff1500"/>
<rect x="666.57" y="95.95" width="5.36" height="7.03" fill="#ff2400"/>
<rect x="671.93" y="95.95" width="5.36" height="7.03" fill="#ff3d00"/>
<rect x="677.29" y="95.95" width="10.71" height="7.03" fill="#ff5000"/>
<rect x="72.00" y="102.98" width="21.43" height="7.03" fill="#fff100"/>
<rect x="93.43" y="102.98" width="53.57" height="7.03" fill="#ffd500"/>
<rect x="146.99" y="102.98" width="10.71" height="7.03" fill="#ffbb00"/>
<rect x="157.70" y="102.98" width="5.36" height="7.03" fill="#ffb900"/>
<rect x="163.06" y="102.98" width="5.36" height="7.03" fill="#ffb800"/>
<rect x="168.42" y="102.98" width="5.36" height="7.03" fill="#ffb700"/>
<rect x="173.77" y="102.98" width="5.36" height="7.03" fill="#ffb600"/>
<rect x="179.13" y="102.98" width="5.36" height="7.03" fill="#ffb500"/>
<rect x="184.49" y="102.98" width="26.78" height="7.03" fill="#ffa500"/>
<rect x="211.27" y="102.98" width="16.07" height="7.03" fill="#ff8f00"/>
<rect x="227.34" y="102.98" width="74.99" height="7.03" fill="#ff8600"/>
<rect x="302.33" y="102.98" width="10.71" height="7.03" fill="#ff8f00"/>
<rect x="313.04" y="102.98" width="5.36" height="7.03" fill="#ff8e00"/>
<rect x="318.40" y="102.98" width="10.71" height="7.03" fill="#ff8d00"/>
<rect x="329.11" y="102.98" width="10.71" height="7.03" fill="#ff8c00"/>
<rect x="339.83" y="102.98" width="5.36" height="7.03" fill="#ff8b00"/>
<rect x="345.18" y="102.98" width="10.71" height="7.03" fill="#ff8a00"/>
<rect x="355.90" y="102.98" width="5.36" height="7.03" fill="#ff8900"/>
<rect x="361.25" y="102.98" width="10.71" height="7.03" fill="#ff8800"/>
<rect x="371.97" y="102.98" width="10.71" height="7.03" fill="#ff8700"/>
<rect x="382.68" y="102.98" width="5.36" height="7.03" fill="#ff8600"/>
<rect x="388.03" y="102.98" width="5.36" height="7.03" fill="#ff7600"/>
<rect x="393.39" y="102.98" width="5.36" height="7.03" fill="#ff7700"/>
<rect x="398.75" y="102.98" width="5.36" height="7.03" fill="#ff7900"/>
<rect x="404.10" y="102.98" width="5.36" height="7.03" fill="#ff7a00"/>
<rect x="409.46" y="102.98" width="5.36" height="7.03" fill="#ff7c00"/>
<rect x="414.82" y="102.98" width="5.36" height="7.03" fill="#ff7d00"/>
<rect x="420.17" y="102.98" width="5.36" height="7.03" fill="#ff7f00"/>
<rect x="425.53" y="102.98" width="5.36" height="7.03" fill="#ff8000"/>
<rect x="430.89" y="102.98" width="5.36" height="7.03" fill="#ff8200"/>
<rect x="436.24" y="102.98" width="5.36" height="7.03" fill="#ff8300"/>
<rect x="441.60" y="102.98" width="5.36" height="7.03" fill="#ffa200"/>
<rect x="446.96" y="102.98" width="5.36" height="7.03" fill="#ffa400"/>
<rect x="452.31" y="102.98" width="5.36" height="7.03" fill="#ffa600"/>
<rect x="457.67" y="102.98" width="5.36" height="7.03" fill="#ffa800"/>
<rect x="463.03" y="102.98" width="5.36" height="7.03" fill="#ffaa00"/>
<rect x="468.38" y="102.98" width="5.36" height="7.03" fill="#ffab00"/>
<rect x="473.74" y="102.98" width="5.36" height="7.03" fill="#ffad00"/>
<rect x="479.10" y="102.98" width="5.36" height="7.03" fill="#ffaf00"/>
<rect x="484.45" y="102.98" width="5.36" height="7.03" fill="#ffd500"/>
<rect x="489.81" y="102.98" width="5.36" height="7.03" fill="#ffd600"/>
<rect x="495.17" y="102.98" width="5.36" height="7.03" fill="#ffd800"/>
<rect x="500.52" y="102.98" width="5.36" height="7.03" fill="#ffd900"/>
<rect x="505.88" y="102.98" width="5.36" height="7.03" fill="#ffdb00"/>
<rect x="511.23" y="102.98" width="5.36" height="7.03" fill="#faff05"/>
<rect x="516.59" y="102.98" width="5.36" height="7.03" fill="#f3ff0c"/>
<rect x="521.95" y="102.98" width="5.36" height="7.03" fill="#ebff14"/>
<rect x="527.30" y="102.98" width="5.36" height="7.03" fill="#e4ff1b"/>
<rect x="532.66" y="102.98" width="5.36" height="7.03" fill="#b5ff4a"/>
<rect x="538.02" y="102.98" width="5.36" height="7.03" fill="#a5ff5a"/>
<rect x="543.37" y="102.98" width="5.36" height="7.03" fill="#9dff62"/>
<rect x="548.73" y="102.98" width="5.36" height="7.03" fill="#95ff6a"/>
<rect x="554.09" y="102.98" width="5.36" height="7.03" fill="#b5ff4a"/>
<rect x="559.44" y="102.98" width="5.36" height="7.03" fill="#c8ff37"/>
<rect x="564.80" y="102.98" width="5.36" height="7.03" fill="#dbff24"/>
<rect x="570.16" y="102.98" width="5.36" height="7.03" fill="#ffeb00"/>
<rect x="575.51" y="102.98" width="5.36" height="7.03" fill="#ffdb00"/>
<rect x="580.87" y="102.98" width="5.36" height="7.03" fill="#ffcb00"/>
<rect x="586.23" y="102.98" width="5.36" height="7.03" fill="#ffb200"/>
<rect x="591.58" y="102.98" width="5.36" height="7.03" fill="#ff9c00"/>
<rect x="596.94" y="102.98" width="5.36" height="7.03" fill="#ff8600"/>
<rect x="602.30" y="102.98" width="5.36" height="7.03" fill="#ff8500"/>
<rect x="607.65" y="102.98" width="5.36" height="7.03" fill="#ff8300"/>
<rect x="613.01" y="102.98" width="5.36" height="7.03" fill="#ff8200"/>
<rect x="618.37" y="102.98" width="5.36" height="7.03" fill="#ff8100"/>
<rect x="623.72" y="102.98" width="5.36" height="7.03" fill="#ff7f00"/>
<rect x="629.08" y="102.98" width="5.36" height="7.03" fill="#ff7e00"/>
<rect x="634.43" y="102.98" width="5.36" height="7.03" fill="#ff7c00"/>
<rect x="639.79" y="102.98" width="5.36" height="7.03" fill="#ff8600"/>
<rect x="645.15" y="102.98" width="5.36" height="7.03" fill="#ff7c00"/>
<rect x="650.50" y="102.98" width="16.07" height="7.03" fill="#ff6a00"/>
<rect x="666.57" y="102.98" width="5.36" height="7.03" fill="#ff8300"/>
<rect x="671.93" y="102.98" width="5.36" height="7.03" fill="#ff9c00"/>
<rect x="677.29" y="102.98" width="5.36" height="7.03" fill="#ffbb00"/>
<rect x="682.64" y="102.98" width="5.36" height="7.03" fill="#ffc200"/>
<rect x="72.00" y="110.02" width="5.36" height="7.03" fill="#fdff02"/>
<rect x="77.36" y="110.02" width="5.36" height="7.03" fill="#feff01"/>
<rect x="82.71" y="110.02" width="5.36" height="7.03" fill="#ffff00"/>
<rect x="88.07" y="110.02" width="10.71" height="7.03" fill="#fffe00"/>
<rect x="98.78" y="110.02" width="5.36" height="7.03" fill="#fffc00"/>
<rect x="104.14" y="110.02" width="5.36" height="7.03" fill="#fffb00"/>
<rect x="109.50" y="110.02" width="5.36" height="7.03" fill="#fffa00"/>
<rect x="114.85" y="110.02" width="5.36" height="7.03" fill="#fff900"/>
<rect x="120.21" y="110.02" width="5.36" height="7.03" fill="#fff800"/>
<rect x="125.57" y="110.02" width="5.36" height="7.03" fill="#fff700"/>
<rect x="130.92" y="110.02" width="5.36" height="7.03" fill="#fff500"/>
<rect x="136.28" y="110.02" width="5.36" height="7.03" fill="#fff400"/>
<rect x="141.63" y="110.02" width="5.36" height="7.03" fill="#ffee00"/>
<rect x="146.99" y="110.02" width="5.36" height="7.03" fill="#ffd500"/>
<rect x="152.35" y="110.02" width="5.36" height="7.03" fill="#ffd400"/>
<rect x="157.70" y="110.02" width="10.71" height="7.03" fill="#ffd200"/>
<rect x="168.42" y="110.02" width="5.36" height="7.03" fill="#ffd100"/>
<rect x="173.77" y="110.02" width="5.36" height="7.03" fill="#ffcf00"/>
<rect x="179.13" y="110.02" width="5.36" height="7.03" fill="#ffce00"/>
<rect x="184.49" y="110.02" width="5.36" height="7.03" fill="#ffbb00"/>
<rect x="189.84" y="110.02" width="5.36" height="7.03" fill="#ffb500"/>
<rect x="195.20" y="110.02" width="5.36" height="7.03" fill="#ffaf00"/>
<rect x="200.56" y="110.02" width="5.36" height="7.03" fill="#ffa900"/>
<rect x="205.91" y="110.02" width="5.36" height="7.03" fill="#ffa800"/>
<rect x="211.27" y="110.02" width="5.36" height="7.03" fill="#ffa700"/>
<rect x="216.63" y="110.02" width="5.36" height="7.03" fill="#ffa600"/>
<rect x="221.98" y="110.02" width="10.71" height="7.03" fill="#ffa500"/>
<rect x="232.70" y="110.02" width="5.36" height="7.03" fill="#ffa400"/>
<rect x="238.05" y="110.02" width="5.36" height="7.03" fill="#ffa300"/>
<rect x="243.41" y="110.02" width="32.14" height="7.03" fill="#ffa200"/>
<rect x="275.55" y="110.02" width="5.36" height="7.03" fill="#ffa800"/>
<rect x="280.90" y="110.02" width="5.36" height="7.03" fill="#ffad00"/>
<rect x="286.26" y="110.02" width="5.36" height="7.03" fill="#ffb200"/>
<rect x="291.62" y="110.02" width="5.36" height="7.03" fill="#ffbb00"/>
<rect x="296.97" y="110.02" width="5.36" height="7.03" fill="#ffc500"/>
<rect x="302.33" y="110.02" width="5.36" height="7.03" fill="#ffd500"/>
<rect x="307.69" y="110.02" width="10.71" height="7.03" fill="#ffd600"/>
<rect x="318.40" y="110.02" width="5.36" height="7.03" fill="#ffd700"/>
<rect x="323.76" y="110.02" width="5.36" height="7.03" fill="#ffd800"/>
<rect x="329.11" y="110.02" width="5.36" height="7.03" fill="#ffd900"/>
<rect x="334.47" y="110.02" width="5.36" height="7.03" fill="#ffda00"/>
<rect x="339.83" y="110.02" width="10.71" height="7.03" fill="#ffdb00"/>
<rect x="350.54" y="110.02" width="5.36" height="7.03" fill="#ffdc00"/>
<rect x="355.90" y="110.02" width="5.36" height="7.03" fill="#ffdd00"/>
<rect x="361.25" y="110.02" width="5.36" height="7.03" fill="#ffde00"/>
<rect x="366.61" y="110.02" width="5.36" height="7.03" fill="#ffdf00"/>
<rect x="371.97" y="110.02" width="10.71" height="7.03" fill="#ffe000"/>
<rect x="382.68" y="110.02" width="5.36" height="7.03" fill="#ffe100"/>
<rect x="388.03" y="110.02" width="32.14" height="7.03" fill="#ffc800"/>
<rect x="420.17" y="110.02" width="5.36" height="7.03" fill="#ffd200"/>
<rect x="425.53" y="110.02" width="5.36" height="7.03" fill="#ffd600"/>
<rect x="430.89" y="110.02" width="5.36" height="7.03" fill="#ffdb00"/>
<rect x="436.24" y="110.02" width="5.36" height="7.03" fill="#ffe800"/>
<rect x="441.60" y="110.02" width="5.36" height="7.03" fill="#e4ff1b"/>
<rect x="446.96" y="110.02" width="5.36" height="7.03" fill="#e2ff1d"/>
<rect x="452.31" y="110.02" width="5.36" height="7.03" fill="#e0ff1f"/>
<rect x="457.67" y="110.02" width="5.36" height="7.03" fill="#ddff22"/>
<rect x="463.03" y="110.02" width="5.36" height="7.03" fill="#dbff24"/>
<rect x="468.38" y="110.02" width="5.36" height="7.03" fill="#d9ff26"/>
<rect x="473.74" y="110.02" width="5.36" height="7.03" fill="#d6ff29"/>
<rect x="479.10" y="110.02" width="5.36" height="7.03" fill="#d4ff2b"/>
<rect x="484.45" y="110.02" width="5.36" height="7.03" fill="#a5ff5a"/>
<rect x="489.81" y="110.02" width="5.36" height="7.03" fill="#a3ff5c"/>
<rect x="495.17" y="110.02" width="5.36" height="7.03" fill="#a0ff5f"/>
<rect x="500.52" y="110.02" width="5.36" height="7.03" fill="#9eff61"/>
<rect x="505.88" y="110.02" width="5.36" height="7.03" fill="#9cff63"/>
<rect x="511.23" y="110.02" width="5.36" height="7.03" fill="#6cff93"/>
<rect x="516.59" y="110.02" width="5.36" height="7.03" fill="#65ff9a"/>
<rect x="521.95" y="110.02" width="5.36" height="7.03" fill="#5effa1"/>
<rect x="527.30" y="110.02" width="5.36" height="7.03" fill="#56ffa9"/>
<rect x="532.66" y="110.02" width="5.36" height="7.03" fill="#00e1ff"/>
<rect x="538.02" y="110.02" width="5.36" height="7.03" fill="#00ceff"/>
<rect x="543.37" y="110.02" width="5.36" height="7.03" fill="#00b8ff"/>
<rect x="548.73" y="110.02" width="5.36" height="7.03" fill="#009bff"/>
<rect x="554.09" y="110.02" width="5.36" height="7.03" fill="#00edff"/>
<rect x="559.44" y="110.02" width="5.36" height="7.03" fill="#27ffd8"/>
<rect x="564.80" y="110.02" width="5.36" height="7.03" fill="#3dffc2"/>
<rect x="570.16" y="110.02" width="5.36" height="7.03" fill="#6fff90"/>
<rect x="575.51" y="110.02" width="5.36" height="7.03" fill="#7bff84"/>
<rect x="580.87" y="110.02" width="5.36" height="7.03" fill="#86ff79"/>
<rect x="586.23" y="110.02" width="5.36" height="7.03" fill="#c5ff3a"/>
<rect x="591.58" y="110.02" width="5.36" height="7.03" fill="#d4ff2b"/>
<rect x="596.94" y="110.02" width="5.36" height="7.03" fill="#eaff15"/>
<rect x="602.30" y="110.02" width="5.36" height="7.03" fill="#edff12"/>
<rect x="607.65" y="110.02" width="5.36" height="7.03" fill="#f1ff0e"/>
<rect x="613.01" y="110.02" width="5.36" height="7.03" fill="#f5ff0a"/>
<rect x="618.37" y="110.02" width="5.36" height="7.03" fill="#f9ff06"/>
<rect x="623.72" y="110.02" width="5.36" height="7.03" fill="#fcff03"/>
<rect x="629.08" y="110.02" width="5.36" height="7.03" fill="#fffe00"/>
<rect x="634.43" y="110.02" width="5.36" height="7.03" fill="#fffa00"/>
<rect x="639.79" y="110.02" width="5.36" height="7.03" fill="#fff400"/>
<rect x="645.15" y="110.02" width="5.36" height="7.03" fill="#ffec00"/>
<rect x="650.50" y="110.02" width="16.07" height="7.03" fill="#ffe400"/>
<rect x="666.57" y="110.02" width="5.36" height="7.03" fill="#fffa00"/>
<rect x="671.93" y="110.02" width="5.36" height="7.03" fill="#dbff24"/>
<rect x="677.29" y="110.02" width="10.71" height="7.03" fill="#aeff51"/>
<rect x="72.00" y="117.05" width="5.36" height="7.03" fill="#beff41"/>
<rect x="77.36" y="117.05" width="5.36" height="7.03" fill="#c1ff3e"/>
<rect x="82.71" y="117.05" width="5.36" height="7.03" fill="#c5ff3a"/>
<rect x="88.07" y="117.05" width="5.36" height="7.03" fill="#c8ff37"/>
<rect x="93.43" y="117.05" width="5.36" height="7.03" fill="#cbff34"/>
<rect x="98.78" y="117.05" width="5.36" height="7.03" fill="#ccff33"/>
<rect x="104.14" y="117.05" width="5.36" height="7.03" fill="#ceff31"/>
<rect x="109.50" y="117.05" width="5.36" height="7.03" fill="#cfff30"/>
<rect x="114.85" y="117.05" width="5.36" height="7.03" fill="#d1ff2e"/>
<rect x="120.21" y="117.05" width="5.36" height="7.03" fill="#d2ff2d"/>
<rect x="125.57" y="117.05" width="5.36" height="7.03" fill="#d3ff2c"/>
<rect x="130.92" y="117.05" width="5.36" height="7.03" fill="#d5ff2a"/>
<rect x="136.28" y="117.05" width="5.36" height="7.03" fill="#d6ff29"/>
<rect x="141.63" y="117.05" width="5.36" height="7.03" fill="#d7ff28"/>
<rect x="146.99" y="117.05" width="5.36" height="7.03" fill="#f7ff08"/>
<rect x="152.35" y="117.05" width="10.71" height="7.03" fill="#f8ff07"/>
<rect x="163.06" y="117.05" width="16.07" height="7.03" fill="#f9ff06"/>
<rect x="179.13" y="117.05" width="5.36" height="7.03" fill="#faff05"/>
<rect x="184.49" y="117.05" width="5.36" height="7.03" fill="#fdff02"/>
<rect x="189.84" y="117.05" width="5.36" height="7.03" fill="#fff700"/>
<rect x="195.20" y="117.05" width="5.36" height="7.03" fill="#ffee00"/>
<rect x="200.56" y="117.05" width="21.43" height="7.03" fill="#ffe400"/>
<rect x="221.98" y="117.05" width="26.78" height="7.03" fill="#ffe300"/>
<rect x="248.77" y="117.05" width="21.43" height="7.03" fill="#ffe200"/>
<rect x="270.19" y="117.05" width="5.36" height="7.03" fill="#ffe100"/>
<rect x="275.55" y="117.05" width="5.36" height="7.03" fill="#ffea00"/>
<rect x="280.90" y="117.05" width="5.36" height="7.03" fill="#fff200"/>
<rect x="286.26" y="117.05" width="5.36" height="7.03" fill="#fffa00"/>
<rect x="291.62" y="117.05" width="5.36" height="7.03" fill="#fdff02"/>
<rect x="296.97" y="117.05" width="5.36" height="7.03" fill="#f7ff08"/>
<rect x="302.33" y="117.05" width="5.36" height="7.03" fill="#e4ff1b"/>
<rect x="307.69" y="117.05" width="5.36" height="7.03" fill="#e3ff1c"/>
<rect x="313.04" y="117.05" width="10.71" height="7.03" fill="#e2ff1d"/>
<rect x="323.76" y="117.05" width="5.36" height="7.03" fill="#e1ff1e"/>
<rect x="329.11" y="117.05" width="5.36" height="7.03" fill="#e0ff1f"/>
<rect x="334.47" y="117.05" width="5.36" height="7.03" fill="#dfff20"/>
<rect x="339.83" y="117.05" width="5.36" height="7.03" fill="#deff21"/>
<rect x="345.18" y="117.05" width="5.36" height="7.03" fill="#ddff22"/>
<rect x="350.54" y="117.05" width="10.71" height="7.03" fill="#dcff23"/>
<rect x="361.25" y="117.05" width="5.36" height="7.03" fill="#dbff24"/>
<rect x="366.61" y="117.05" width="5.36" height="7.03" fill="#daff25"/>
<rect x="371.97" y="117.05" width="5.36" height="7.03" fill="#d9ff26"/>
<rect x="377.32" y="117.05" width="5.36" height="7.03" fill="#d8ff27"/>
<rect x="382.68" y="117.05" width="5.36" height="7.03" fill="#d7ff28"/>
<rect x="388.03" y="117.05" width="5.36" height="7.03" fill="#eaff15"/>
<rect x="393.39" y="117.05" width="5.36" height="7.03" fill="#e9ff16"/>
<rect x="398.75" y="117.05" width="5.36" height="7.03" fill="#e8ff17"/>
<rect x="404.10" y="117.05" width="5.36" height="7.03" fill="#e7ff18"/>
<rect x="409.46" y="117.05" width="5.36" height="7.03" fill="#e6ff19"/>
<rect x="414.82" y="117.05" width="5.36" height="7.03" fill="#e5ff1a"/>
<rect x="420.17" y="117.05" width="5.36" height="7.03" fill="#e4ff1b"/>
<rect x="425.53" y="117.05" width="5.36" height="7.03" fill="#dbff24"/>
<rect x="430.89" y="117.05" width="5.36" height="7.03" fill="#cbff34"/>
<rect x="436.24" y="117.05" width="5.36" height="7.03" fill="#bbff44"/>
<rect x="441.60" y="117.05" width="5.36" height="7.03" fill="#37ffc8"/>
<rect x="446.96" y="117.05" width="5.36" height="7.03" fill="#32ffcd"/>
<rect x="452.31" y="117.05" width="5.36" height="7.03" fill="#2dffd2"/>
<rect x="457.67" y="117.05" width="5.36" height="7.03" fill="#00f4ff"/>
<rect x="463.03" y="117.05" width="5.36" height="7.03" fill="#00f0ff"/>
<rect x="468.38" y="117.05" width="5.36" height="7.03" fill="#00edff"/>
<rect x="473.74" y="117.05" width="5.36" height="7.03" fill="#00eaff"/>
<rect x="479.10" y="117.05" width="5.36" height="7.03" fill="#00e7ff"/>
<rect x="484.45" y="117.05" width="5.36" height="7.03" fill="#00ceff"/>
<rect x="489.81" y="117.05" width="5.36" height="7.03" fill="#00ccff"/>
<rect x="495.17" y="117.05" width="5.36" height="7.03" fill="#00cbff"/>
<rect x="500.52" y="117.05" width="5.36" height="7.03" fill="#00c9ff"/>
<rect x="505.88" y="117.05" width="5.36" height="7.03" fill="#00c8ff"/>
<rect x="511.23" y="117.05" width="5.36" height="7.03" fill="#00aeff"/>
<rect x="516.59" y="117.05" width="5.36" height="7.03" fill="#00acff"/>
<rect x="521.95" y="117.05" width="5.36" height="7.03" fill="#00aaff"/>
<rect x="527.30" y="117.05" width="5.36" height="7.03" fill="#00a8ff"/>
<rect x="532.66" y="117.05" width="5.36" height="7.03" fill="#0089ff"/>
<rect x="538.02" y="117.05" width="5.36" height="7.03" fill="#0092ff"/>
<rect x="543.37" y="117.05" width="5.36" height="7.03" fill="#0098ff"/>
<rect x="548.73" y="117.05" width="5.36" height="7.03" fill="#0089ff"/>
<rect x="554.09" y="117.05" width="5.36" height="7.03" fill="#00c8ff"/>
<rect x="559.44" y="117.05" width="5.36" height="7.03" fill="#00f7ff"/>
<rect x="564.80" y="117.05" width="5.36" height="7.03" fill="#00fdff"/>
<rect x="570.16" y="117.05" width="5.36" height="7.03" fill="#17ffe8"/>
<rect x="575.51" y="117.05" width="5.36" height="7.03" fill="#22ffdd"/>
<rect x="580.87" y="117.05" width="5.36" height="7.03" fill="#2dffd2"/>
<rect x="586.23" y="117.05" width="5.36" height="7.03" fill="#27ffd8"/>
<rect x="591.58" y="117.05" width="5.36" height="7.03" fill="#34ffcb"/>
<rect x="596.94" y="117.05" width="5.36" height="7.03" fill="#47ffb8"/>
<rect x="602.30" y="117.05" width="5.36" height="7.03" fill="#4affb5"/>
<rect x="607.65" y="117.05" width="5.36" height="7.03" fill="#4dffb2"/>
<rect x="613.01" y="117.05" width="5.36" height="7.03" fill="#50ffaf"/>
<rect x="618.37" y="117.05" width="5.36" height="7.03" fill="#53ffac"/>
<rect x="623.72" y="117.05" width="5.36" height="7.03" fill="#56ffa9"/>
<rect x="629.08" y="117.05" width="5.36" height="7.03" fill="#59ffa6"/>
<rect x="634.43" y="117.05" width="5.36" height="7.03" fill="#5dffa2"/>
<rect x="639.79" y="117.05" width="26.78" height="7.03" fill="#69ff96"/>
<rect x="666.57" y="117.05" width="5.36" height="7.03" fill="#37ffc8"/>
<rect x="671.93" y="117.05" width="5.36" height="7.03" fill="#17ffe8"/>
<rect x="677.29" y="117.05" width="5.36" height="7.03" fill="#00fdff"/>
<rect x="682.64" y="117.05" width="5.36" height="7.03" fill="#00f4ff"/>
<rect x="72.00" y="124.08" width="5.36" height="7.03" fill="#2dffd2"/>
<rect x="77.36" y="124.08" width="5.36" height="7.03" fill="#2fffd0"/>
<rect x="82.71" y="124.08" width="5.36" height="7.03" fill="#30ffcf"/>
<rect x="88.07" y="124.08" width="5.36" height="7.03" fill="#32ffcd"/>
<rect x="93.43" y="124.08" width="5.36" height="7.03" fill="#34ffcb"/>
<rect x="98.78" y="124.08" width="5.36" height="7.03" fill="#36ffc9"/>
<rect x="104.14" y="124.08" width="5.36" height="7.03" fill="#38ffc7"/>
<rect x="109.50" y="124.08" width="5.36" height="7.03" fill="#3affc5"/>
<rect x="114.85" y="124.08" width="5.36" height="7.03" fill="#3cffc3"/>
<rect x="120.21" y="124.08" width="5.36" height="7.03" fill="#3effc1"/>
<rect x="125.57" y="124.08" width="5.36" height="7.03" fill="#40ffbf"/>
<rect x="130.92" y="124.08" width="5.36" height="7.03" fill="#42ffbd"/>
<rect x="136.28" y="124.08" width="5.36" height="7.03" fill="#44ffbb"/>
<rect x="141.63" y="124.08" width="5.36" height="7.03" fill="#47ffb8"/>
<rect x="146.99" y="124.08" width="5.36" height="7.03" fill="#7fff80"/>
<rect x="152.35" y="124.08" width="5.36" height="7.03" fill="#81ff7e"/>
<rect x="157.70" y="124.08" width="5.36" height="7.03" fill="#83ff7c"/>
<rect x="163.06" y="124.08" width="5.36" height="7.03" fill="#86ff79"/>
<rect x="168.42" y="124.08" width="5.36" height="7.03" fill="#88ff77"/>
<rect x="173.77" y="124.08" width="5.36" height="7.03" fill="#8aff75"/>
<rect x="179.13" y="124.08" width="5.36" height="7.03" fill="#8cff73"/>
<rect x="184.49" y="124.08" width="5.36" height="7.03" fill="#a5ff5a"/>
<rect x="189.84" y="124.08" width="5.36" height="7.03" fill="#b5ff4a"/>
<rect x="195.20" y="124.08" width="5.36" height="7.03" fill="#c5ff3a"/>
<rect x="200.56" y="124.08" width="10.71" height="7.03" fill="#ceff31"/>
<rect x="211.27" y="124.08" width="21.43" height="7.03" fill="#cfff30"/>
<rect x="232.70" y="124.08" width="21.43" height="7.03" fill="#d0ff2f"/>
<rect x="254.12" y="124.08" width="21.43" height="7.03" fill="#d1ff2e"/>
<rect x="275.55" y="124.08" width="5.36" height="7.03" fill="#c8ff37"/>
<rect x="280.90" y="124.08" width="5.36" height="7.03" fill="#beff41"/>
<rect x="286.26" y="124.08" width="5.36" height="7.03" fill="#b5ff4a"/>
<rect x="291.62" y="124.08" width="5.36" height="7.03" fill="#a8ff57"/>
<rect x="296.97" y="124.08" width="5.36" height="7.03" fill="#9cff63"/>
<rect x="302.33" y="124.08" width="5.36" height="7.03" fill="#59ffa6"/>
<rect x="307.69" y="124.08" width="5.36" height="7.03" fill="#57ffa8"/>
<rect x="313.04" y="124.08" width="5.36" height="7.03" fill="#55ffaa"/>
<rect x="318.40" y="124.08" width="5.36" height="7.03" fill="#53ffac"/>
<rect x="323.76" y="124.08" width="5.36" height="7.03" fill="#50ffaf"/>
<rect x="329.11" y="124.08" width="5.36" height="7.03" fill="#4effb1"/>
<rect x="334.47" y="124.08" width="5.36" height="7.03" fill="#4cffb3"/>
<rect x="339.83" y="124.08" width="5.36" height="7.03" fill="#49ffb6"/>
<rect x="345.18" y="124.08" width="5.36" height="7.03" fill="#47ffb8"/>
<rect x="350.54" y="124.08" width="5.36" height="7.03" fill="#45ffba"/>
<rect x="355.90" y="124.08" width="5.36" height="7.03" fill="#42ffbd"/>
<rect x="361.25" y="124.08" width="5.36" height="7.03" fill="#40ffbf"/>
<rect x="366.61" y="124.08" width="5.36" height="7.03" fill="#3effc1"/>
<rect x="371.97" y="124.08" width="5.36" height="7.03" fill="#3cffc3"/>
<rect x="377.32" y="124.08" width="5.36" height="7.03" fill="#39ffc6"/>
<rect x="382.68" y="124.08" width="5.36" height="7.03" fill="#37ffc8"/>
<rect x="388.03" y="124.08" width="5.36" height="7.03" fill="#38ffc7"/>
<rect x="393.39" y="124.08" width="5.36" height="7.03" fill="#39ffc6"/>
<rect x="398.75" y="124.08" width="5.36" height="7.03" fill="#3affc5"/>
<rect x="404.10" y="124.08" width="5.36" height="7.03" fill="#3bffc4"/>
<rect x="409.46" y="124.08" width="5.36" height="7.03" fill="#3cffc3"/>
<rect x="414.82" y="124.08" width="5.36" height="7.03" fill="#3dffc2"/>
<rect x="420.17" y="124.08" width="5.36" height="7.03" fill="#2affd5"/>
<rect x="425.53" y="124.08" width="5.36" height="7.03" fill="#17ffe8"/>
<rect x="430.89" y="124.08" width="5.36" height="7.03" fill="#03fffc"/>
<rect x="436.24" y="124.08" width="5.36" height="7.03" fill="#00edff"/>
<rect x="441.60" y="124.08" width="5.36" height="7.03" fill="#00c8ff"/>
<rect x="446.96" y="124.08" width="5.36" height="7.03" fill="#00a8ff"/>
<rect x="452.31" y="124.08" width="5.36" height="7.03" fill="#00a3ff"/>
<rect x="457.67" y="124.08" width="5.36" height="7.03" fill="#009fff"/>
<rect x="548.73" y="124.08" width="5.36" height="7.03" fill="#007fff"/>
<rect x="554.09" y="124.08" width="5.36" height="7.03" fill="#00c8ff"/>
<rect x="559.44" y="124.08" width="5.36" height="7.03" fill="#00d4ff"/>
<rect x="564.80" y="124.08" width="5.36" height="7.03" fill="#00ceff"/>
<rect x="570.16" y="124.08" width="5.36" height="7.03" fill="#00c1ff"/>
<rect x="575.51" y="124.08" width="5.36" height="7.03" fill="#00aeff"/>
<rect x="580.87" y="124.08" width="5.36" height="7.03" fill="#009bff"/>
<rect x="586.23" y="124.08" width="10.71" height="7.03" fill="#0079ff"/>
<rect x="596.94" y="124.08" width="5.36" height="7.03" fill="#00c8ff"/>
<rect x="602.30" y="124.08" width="5.36" height="7.03" fill="#00d7ff"/>
<rect x="607.65" y="124.08" width="5.36" height="7.03" fill="#00e7ff"/>
<rect x="613.01" y="124.08" width="5.36" height="7.03" fill="#00e8ff"/>
<rect x="618.37" y="124.08" width="5.36" height="7.03" fill="#00e9ff"/>
<rect x="623.72" y="124.08" width="5.36" height="7.03" fill="#00eaff"/>
<rect x="629.08" y="124.08" width="5.36" height="7.03" fill="#00ebff"/>
<rect x="634.43" y="124.08" width="5.36" height="7.03" fill="#00ecff"/>
<rect x="639.79" y="124.08" width="5.36" height="7.03" fill="#00edff"/>
<rect x="645.15" y="124.08" width="21.43" height="7.03" fill="#00d7ff"/>
<rect x="666.57" y="124.08" width="10.71" height="7.03" fill="#00c8ff"/>
<rect x="677.29" y="124.08" width="10.71" height="7.03" fill="#00aeff"/>
<rect x="93.43" y="131.12" width="5.36" height="7.03" fill="#0098ff"/>
<rect x="98.78" y="131.12" width="5.36" height="7.03" fill="#00a8ff"/>
<rect x="104.14" y="131.12" width="5.36" height="7.03" fill="#00b1ff"/>
<rect x="109.50" y="131.12" width="5.36" height="7.03" fill="#00b9ff"/>
<rect x="114.85" y="131.12" width="5.36" height="7.03" fill="#00c1ff"/>
<rect x="120.21" y="131.12" width="5.36" height="7.03" fill="#00ccff"/>
<rect x="125.57" y="131.12" width="5.36" height="7.03" fill="#00d7ff"/>
<rect x="130.92" y="131.12" width="5.36" height="7.03" fill="#00dfff"/>
<rect x="136.28" y="131.12" width="5.36" height="7.03" fill="#00e6ff"/>
<rect x="141.63" y="131.12" width="5.36" height="7.03" fill="#00edff"/>
<rect x="146.99" y="131.12" width="5.36" height="7.03" fill="#01fffe"/>
<rect x="152.35" y="131.12" width="5.36" height="7.03" fill="#03fffc"/>
<rect x="157.70" y="131.12" width="5.36" height="7.03" fill="#05fffa"/>
<rect x="163.06" y="131.12" width="5.36" height="7.03" fill="#08fff7"/>
<rect x="168.42" y="131.12" width="5.36" height="7.03" fill="#0afff5"/>
<rect x="173.77" y="131.12" width="5.36" height="7.03" fill="#0cfff3"/>
<rect x="179.13" y="131.12" width="5.36" height="7.03" fill="#0efff1"/>
<rect x="184.49" y="131.12" width="5.36" height="7.03" fill="#37ffc8"/>
<rect x="189.84" y="131.12" width="5.36" height="7.03" fill="#4affb5"/>
<rect x="195.20" y="131.12" width="5.36" height="7.03" fill="#5dffa2"/>
<rect x="200.56" y="131.12" width="5.36" height="7.03" fill="#69ff96"/>
<rect x="205.91" y="131.12" width="5.36" height="7.03" fill="#68ff97"/>
<rect x="211.27" y="131.12" width="5.36" height="7.03" fill="#66ff99"/>
<rect x="216.63" y="131.12" width="5.36" height="7.03" fill="#65ff9a"/>
<rect x="221.98" y="131.12" width="5.36" height="7.03" fill="#64ff9b"/>
<rect x="227.34" y="131.12" width="5.36" height="7.03" fill="#62ff9d"/>
<rect x="232.70" y="131.12" width="5.36" height="7.03" fill="#60ff9f"/>
<rect x="238.05" y="131.12" width="5.36" height="7.03" fill="#5fffa0"/>
<rect x="243.41" y="131.12" width="5.36" height="7.03" fill="#5effa1"/>
<rect x="248.77" y="131.12" width="5.36" height="7.03" fill="#5cffa3"/>
<rect x="254.12" y="131.12" width="5.36" height="7.03" fill="#5bffa4"/>
<rect x="259.48" y="131.12" width="5.36" height="7.03" fill="#59ffa6"/>
<rect x="264.83" y="131.12" width="5.36" height="7.03" fill="#58ffa7"/>
<rect x="270.19" y="131.12" width="5.36" height="7.03" fill="#56ffa9"/>
<rect x="275.55" y="131.12" width="5.36" height="7.03" fill="#4cffb3"/>
<rect x="280.90" y="131.12" width="5.36" height="7.03" fill="#41ffbe"/>
<rect x="286.26" y="131.12" width="5.36" height="7.03" fill="#37ffc8"/>
<rect x="291.62" y="131.12" width="5.36" height="7.03" fill="#27ffd8"/>
<rect x="296.97" y="131.12" width="5.36" height="7.03" fill="#17ffe8"/>
<rect x="302.33" y="131.12" width="5.36" height="7.03" fill="#00e7ff"/>
<rect x="307.69" y="131.12" width="5.36" height="7.03" fill="#00daff"/>
<rect x="313.04" y="131.12" width="5.36" height="7.03" fill="#00ceff"/>
<rect x="318.40" y="131.12" width="5.36" height="7.03" fill="#00aeff"/>
<rect x="323.76" y="131.12" width="5.36" height="7.03" fill="#00a7ff"/>
<rect x="329.11" y="131.12" width="5.36" height="7.03" fill="#00a0ff"/>
<rect x="334.47" y="131.12" width="5.36" height="7.03" fill="#0099ff"/>
<rect x="339.83" y="131.12" width="5.36" height="7.03" fill="#0092ff"/>
<rect x="345.18" y="131.12" width="5.36" height="7.03" fill="#0091ff"/>
<rect x="350.54" y="131.12" width="5.36" height="7.03" fill="#008fff"/>
<rect x="355.90" y="131.12" width="5.36" height="7.03" fill="#008eff"/>
<rect x="361.25" y="131.12" width="5.36" height="7.03" fill="#008dff"/>
<rect x="366.61" y="131.12" width="5.36" height="7.03" fill="#008bff"/>
<rect x="371.97" y="131.12" width="5.36" height="7.03" fill="#008aff"/>
<rect x="377.32" y="131.12" width="5.36" height="7.03" fill="#0089ff"/>
<rect x="382.68" y="131.12" width="5.36" height="7.03" fill="#0098ff"/>
<rect x="388.03" y="131.12" width="5.36" height="7.03" fill="#00c8ff"/>
<rect x="393.39" y="131.12" width="5.36" height="7.03" fill="#00cbff"/>
<rect x="398.75" y="131.12" width="5.36" height="7.03" fill="#00ceff"/>
<rect x="404.10" y="131.12" width="26.78" height="7.03" fill="#00e7ff"/>
<rect x="430.89" y="131.12" width="5.36" height="7.03" fill="#00d7ff"/>
<rect x="436.24" y="131.12" width="5.36" height="7.03" fill="#00c8ff"/>
<rect x="441.60" y="131.12" width="5.36" height="7.03" fill="#0089ff"/>
<rect x="554.09" y="131.12" width="5.36" height="7.03" fill="#008fff"/>
<rect x="559.44" y="131.12" width="5.36" height="7.03" fill="#00aeff"/>
<rect x="564.80" y="131.12" width="5.36" height="7.03" fill="#00a8ff"/>
<rect x="570.16" y="131.12" width="5.36" height="7.03" fill="#007fff"/>
<rect x="575.51" y="131.12" width="5.36" height="7.03" fill="#0074ff"/>
<rect x="596.94" y="131.12" width="16.07" height="7.03" fill="#009bff"/>
<rect x="613.01" y="131.12" width="32.14" height="7.03" fill="#00bbff"/>
<rect x="645.15" y="131.12" width="21.43" height="7.03" fill="#0098ff"/>
<rect x="666.57" y="131.12" width="21.43" height="7.03" fill="#0076ff"/>
<rect x="72.00" y="138.15" width="21.43" height="7.03" fill="#0098ff"/>
<rect x="93.43" y="138.15" width="5.36" height="7.03" fill="#00a8ff"/>
<rect x="98.78" y="138.15" width="5.36" height="7.03" fill="#00acff"/>
<rect x="104.14" y="138.15" width="5.36" height="7.03" fill="#00afff"/>
<rect x="109.50" y="138.15" width="5.36" height="7.03" fill="#00b2ff"/>
<rect x="114.85" y="138.15" width="5.36" height="7.03" fill="#00b6ff"/>
<rect x="120.21" y="138.15" width="5.36" height="7.03" fill="#00baff"/>
<rect x="125.57" y="138.15" width="5.36" height="7.03" fill="#00bdff"/>
<rect x="130.92" y="138.15" width="5.36" height="7.03" fill="#00c1ff"/>
<rect x="136.28" y="138.15" width="5.36" height="7.03" fill="#00c4ff"/>
<rect x="141.63" y="138.15" width="5.36" height="7.03" fill="#00c8ff"/>
<rect x="146.99" y="138.15" width="5.36" height="7.03" fill="#00deff"/>
<rect x="152.35" y="138.15" width="5.36" height="7.03" fill="#00dfff"/>
<rect x="157.70" y="138.15" width="5.36" height="7.03" fill="#00e1ff"/>
<rect x="163.06" y="138.15" width="5.36" height="7.03" fill="#00e2ff"/>
<rect x="168.42" y="138.15" width="5.36" height="7.03" fill="#00e4ff"/>
<rect x="173.77" y="138.15" width="5.36" height="7.03" fill="#00e5ff"/>
<rect x="179.13" y="138.15" width="5.36" height="7.03" fill="#00e7ff"/>
<rect x="184.49" y="138.15" width="5.36" height="7.03" fill="#00f4ff"/>
<rect x="189.84" y="138.15" width="5.36" height="7.03" fill="#00fdff"/>
<rect x="195.20" y="138.15" width="5.36" height="7.03" fill="#08fff7"/>
<rect x="200.56" y="138.15" width="10.71" height="7.03" fill="#11ffee"/>
<rect x="211.27" y="138.15" width="10.71" height="7.03" fill="#12ffed"/>
<rect x="221.98" y="138.15" width="10.71" height="7.03" fill="#13ffec"/>
<rect x="232.70" y="138.15" width="16.07" height="7.03" fill="#14ffeb"/>
<rect x="248.77" y="138.15" width="5.36" height="7.03" fill="#0bfff4"/>
<rect x="254.12" y="138.15" width="5.36" height="7.03" fill="#01fffe"/>
<rect x="259.48" y="138.15" width="5.36" height="7.03" fill="#00fdff"/>
<rect x="264.83" y="138.15" width="5.36" height="7.03" fill="#00faff"/>
<rect x="270.19" y="138.15" width="5.36" height="7.03" fill="#00f7ff"/>
<rect x="275.55" y="138.15" width="10.71" height="7.03" fill="#00e7ff"/>
<rect x="286.26" y="138.15" width="16.07" height="7.03" fill="#00c8ff"/>
<rect x="302.33" y="138.15" width="5.36" height="7.03" fill="#00b2ff"/>
<rect x="307.69" y="138.15" width="5.36" height="7.03" fill="#009bff"/>
<rect x="404.10" y="138.15" width="26.78" height="7.03" fill="#009bff"/>
<rect x="613.01" y="138.15" width="16.07" height="7.03" fill="#0092ff"/>
<rect x="629.08" y="138.15" width="16.07" height="7.03" fill="#00a2ff"/>
<rect x="645.15" y="138.15" width="21.43" height="7.03" fill="#008cff"/>
<rect x="72.00" y="145.18" width="74.99" height="7.03" fill="#00ceff"/>
<rect x="146.99" y="145.18" width="37.50" height="7.03" fill="#00deff"/>
<rect x="184.49" y="145.18" width="26.78" height="7.03" fill="#00e7ff"/>
<rect x="211.27" y="145.18" width="16.07" height="7.03" fill="#00deff"/>
<rect x="227.34" y="145.18" width="26.78" height="7.03" fill="#00ceff"/>
<rect x="254.12" y="145.18" width="21.43" height="7.03" fill="#00c8ff"/>
<rect x="275.55" y="145.18" width="10.71" height="7.03" fill="#00b2ff"/>
<rect x="286.26" y="145.18" width="10.71" height="7.03" fill="#009bff"/>
<rect x="296.97" y="145.18" width="5.36" height="7.03" fill="#0089ff"/>
<rect x="618.37" y="145.18" width="16.07" height="7.03" fill="#008fff"/>
<rect x="72.00" y="152.22" width="160.70" height="7.03" fill="#00d1ff"/>
<rect x="232.70" y="152.22" width="5.36" height="7.03" fill="#00ceff"/>
<rect x="238.05" y="152.22" width="16.07" height="7.03" fill="#00c8ff"/>
<rect x="254.12" y="152.22" width="21.43" height="7.03" fill="#00b2ff"/>
<rect x="275.55" y="152.22" width="10.71" height="7.03" fill="#0092ff"/>
<rect x="286.26" y="152.22" width="16.07" height="7.03" fill="#0079ff"/>
<rect x="72.00" y="159.25" width="160.70" height="7.03" fill="#00ceff"/>
<rect x="232.70" y="159.25" width="5.36" height="7.03" fill="#00c8ff"/>
<rect x="238.05" y="159.25" width="16.07" height="7.03" fill="#00c1ff"/>
<rect x="254.12" y="159.25" width="21.43" height="7.03" fill="#00abff"/>
<rect x="275.55" y="159.25" width="10.71" height="7.03" fill="#0089ff"/>
<rect x="286.26" y="159.25" width="16.07" height="7.03" fill="#0073ff"/>
<rect x="72.00" y="166.28" width="160.70" height="7.03" fill="#00ceff"/>
<rect x="232.70" y="166.28" width="5.36" height="7.03" fill="#00c8ff"/>
<rect x="238.05" y="166.28" width="16.07" height="7.03" fill="#00bbff"/>
<rect x="254.12" y="166.28" width="21.43" height="7.03" fill="#00a2ff"/>
<rect x="275.55" y="166.28" width="10.71" height="7.03" fill="#007cff"/>
<rect x="72.00" y="173.32" width="160.70" height="7.03" fill="#00cbff"/>
<rect x="232.70" y="173.32" width="5.36" height="7.03" fill="#00c1ff"/>
<rect x="238.05" y="173.32" width="16.07" height="7.03" fill="#00b5ff"/>
<rect x="254.12" y="173.32" width="21.43" height="7.03" fill="#009bff"/>
<rect x="275.55" y="173.32" width="10.71" height="7.03" fill="#0076ff"/>
<rect x="72.00" y="180.35" width="160.70" height="7.03" fill="#00ceff"/>
<rect x="232.70" y="180.35" width="5.36" height="7.03" fill="#00c8ff"/>
<rect x="238.05" y="180.35" width="16.07" height="7.03" fill="#00bbff"/>
<rect x="254.12" y="180.35" width="21.43" height="7.03" fill="#009bff"/>
<rect x="275.55" y="180.35" width="10.71" height="7.03" fill="#0073ff"/>
<rect x="72.00" y="187.38" width="160.70" height="7.03" fill="#00c8ff"/>
<rect x="232.70" y="187.38" width="5.36" height="7.03" fill="#00bbff"/>
<rect x="238.05" y="187.38" width="16.07" height="7.03" fill="#00b2ff"/>
<rect x="254.12" y="187.38" width="21.43" height="7.03" fill="#0092ff"/>
<rect x="275.55" y="187.38" width="10.71" height="7.03" fill="#006fff"/>
<rect x="72.00" y="194.42" width="160.70" height="7.03" fill="#00bbff"/>
<rect x="232.70" y="194.42" width="5.36" height="7.03" fill="#00b2ff"/>
<rect x="238.05" y="194.42" width="16.07" height="7.03" fill="#00a8ff"/>
<rect x="254.12" y="194.42" width="21.43" height="7.03" fill="#0089ff"/>
<rect x="72.00" y="201.45" width="160.70" height="7.03" fill="#00abff"/>
<rect x="232.70" y="201.45" width="5.36" height="7.03" fill="#00a2ff"/>
<rect x="238.05" y="201.45" width="16.07" height="7.03" fill="#0098ff"/>
<rect x="254.12" y="201.45" width="21.43" height="7.03" fill="#007cff"/>
<rect x="72.00" y="208.48" width="160.70" height="7.03" fill="#0092ff"/>
<rect x="232.70" y="208.48" width="5.36" height="7.03" fill="#008fff"/>
<rect x="238.05" y="208.48" width="16.07" height="7.03" fill="#0089ff"/>
<rect x="254.12" y="208.48" width="21.43" height="7.03" fill="#0073ff"/>
<rect x="72.00" y="215.52" width="160.70" height="7.03" fill="#0076ff"/>
<rect x="232.70" y="215.52" width="21.43" height="7.03" fill="#0073ff"/></g>
<g stroke="#008800" stroke-opacity="0.62" stroke-width="1.1" shape-rendering="auto"><line x1="72.5" y1="138.7" x2="72.5" y2="476.0"/>
<line x1="91.3" y1="138.7" x2="91.3" y2="476.0"/>
<line x1="144.5" y1="138.7" x2="144.5" y2="476.0"/>
<line x1="181.3" y1="138.7" x2="181.3" y2="476.0"/>
<line x1="210.5" y1="138.7" x2="210.5" y2="476.0"/>
<line x1="235.0" y1="138.7" x2="235.0" y2="476.0"/>
<line x1="254.7" y1="138.7" x2="254.7" y2="476.0"/>
<line x1="271.2" y1="138.7" x2="271.2" y2="476.0"/>
<line x1="286.6" y1="138.7" x2="286.6" y2="476.0"/>
<line x1="300.6" y1="138.7" x2="300.6" y2="476.0"/>
<line x1="390.7" y1="138.7" x2="390.7" y2="476.0"/>
<line x1="442.6" y1="138.7" x2="442.6" y2="476.0"/>
<line x1="480.4" y1="138.7" x2="480.4" y2="476.0"/>
<line x1="508.6" y1="138.7" x2="508.6" y2="476.0"/>
<line x1="532.6" y1="138.7" x2="532.6" y2="476.0"/>
<line x1="552.6" y1="138.7" x2="552.6" y2="476.0"/>
<line x1="569.0" y1="138.7" x2="569.0" y2="476.0"/>
<line x1="585.4" y1="138.7" x2="585.4" y2="476.0"/>
<line x1="598.6" y1="138.7" x2="598.6" y2="476.0"/>
<line x1="72.0" y1="54.5" x2="688.0" y2="54.5"/>
<line x1="72.0" y1="138.67" x2="688.0" y2="138.67"/>
<line x1="72.0" y1="180.73" x2="688.0" y2="180.73"/>
<line x1="72.0" y1="222.79" x2="688.0" y2="222.79"/>
<line x1="72.0" y1="264.85" x2="688.0" y2="264.85"/>
<line x1="72.0" y1="306.91" x2="688.0" y2="306.91"/>
<line x1="72.0" y1="348.97" x2="688.0" y2="348.97"/>
<line x1="72.0" y1="391.03" x2="688.0" y2="391.03"/>
<line x1="72.0" y1="433.09" x2="688.0" y2="433.09"/></g>
<g stroke="#004a00" stroke-opacity="0.72" stroke-width="1.1" shape-rendering="auto"><line x1="72.5" y1="54.0" x2="72.5" y2="138.7"/>
<line x1="91.3" y1="54.0" x2="91.3" y2="138.7"/>
<line x1="144.5" y1="54.0" x2="144.5" y2="138.7"/>
<line x1="181.3" y1="54.0" x2="181.3" y2="138.7"/>
<line x1="210.5" y1="54.0" x2="210.5" y2="138.7"/>
<line x1="235.0" y1="54.0" x2="235.0" y2="138.7"/>
<line x1="254.7" y1="54.0" x2="254.7" y2="138.7"/>
<line x1="271.2" y1="54.0" x2="271.2" y2="138.7"/>
<line x1="286.6" y1="54.0" x2="286.6" y2="138.7"/>
<line x1="300.6" y1="54.0" x2="300.6" y2="138.7"/>
<line x1="390.7" y1="54.0" x2="390.7" y2="138.7"/>
<line x1="442.6" y1="54.0" x2="442.6" y2="138.7"/>
<line x1="480.4" y1="54.0" x2="480.4" y2="138.7"/>
<line x1="508.6" y1="54.0" x2="508.6" y2="138.7"/>
<line x1="532.6" y1="54.0" x2="532.6" y2="138.7"/>
<line x1="552.6" y1="54.0" x2="552.6" y2="138.7"/>
<line x1="569.0" y1="54.0" x2="569.0" y2="138.7"/>
<line x1="585.4" y1="54.0" x2="585.4" y2="138.7"/>
<line x1="598.6" y1="54.0" x2="598.6" y2="138.7"/>
<line x1="72.0" y1="96.61" x2="688.0" y2="96.61"/></g>
<path d="M688.5 54V476.5M72 476.5H689" stroke="#1f7f38" stroke-width="1" fill="none"/>
<g stroke="#4aa050" stroke-width="1.1" shape-rendering="auto"><line x1="68" y1="54.5" x2="72.0" y2="54.5"/>
<line x1="68" y1="96.61" x2="72.0" y2="96.61"/>
<line x1="68" y1="138.67" x2="72.0" y2="138.67"/>
<line x1="68" y1="180.73" x2="72.0" y2="180.73"/>
<line x1="68" y1="222.79" x2="72.0" y2="222.79"/>
<line x1="68" y1="264.85" x2="72.0" y2="264.85"/>
<line x1="68" y1="306.91" x2="72.0" y2="306.91"/>
<line x1="68" y1="348.97" x2="72.0" y2="348.97"/>
<line x1="68" y1="391.03" x2="72.0" y2="391.03"/>
<line x1="68" y1="433.09" x2="72.0" y2="433.09"/>
<line x1="68" y1="476.5" x2="72.0" y2="476.5"/>
<line x1="91.3" y1="476.0" x2="91.3" y2="479.0"/>
<line x1="144.5" y1="476.0" x2="144.5" y2="479.0"/>
<line x1="181.3" y1="476.0" x2="181.3" y2="479.0"/>
<line x1="210.5" y1="476.0" x2="210.5" y2="479.0"/>
<line x1="235.0" y1="476.0" x2="235.0" y2="479.0"/>
<line x1="254.7" y1="476.0" x2="254.7" y2="479.0"/>
<line x1="271.2" y1="476.0" x2="271.2" y2="479.0"/>
<line x1="286.6" y1="476.0" x2="286.6" y2="479.0"/>
<line x1="300.6" y1="476.0" x2="300.6" y2="479.0"/>
<line x1="390.7" y1="476.0" x2="390.7" y2="479.0"/>
<line x1="442.6" y1="476.0" x2="442.6" y2="479.0"/>
<line x1="480.4" y1="476.0" x2="480.4" y2="479.0"/>
<line x1="508.6" y1="476.0" x2="508.6" y2="479.0"/>
<line x1="532.6" y1="476.0" x2="532.6" y2="479.0"/>
<line x1="552.6" y1="476.0" x2="552.6" y2="479.0"/>
<line x1="569.0" y1="476.0" x2="569.0" y2="479.0"/>
<line x1="585.4" y1="476.0" x2="585.4" y2="479.0"/>
<line x1="598.6" y1="476.0" x2="598.6" y2="479.0"/></g>
<rect x="710.5" y="54.5" width="18" height="422" fill="url(#cb)" stroke="#6c7040" stroke-width="1"/>
</g>
</svg>
<div class="t" style="left:286.33px;top:20.00px;transform:scaleX(0.9724);">Cumulative Spectral Decay</div>
<div class="t" style="left:30.40px;top:47.25px;">ms 0</div>
<div class="t" style="left:33.40px;top:89.31px;">0.27</div>
<div class="t" style="left:33.40px;top:131.37px;">0.54</div>
<div class="t" style="left:33.40px;top:173.43px;">0.80</div>
<div class="t" style="left:33.40px;top:215.49px;">1.07</div>
<div class="t" style="left:33.40px;top:257.55px;">1.34</div>
<div class="t" style="left:33.40px;top:299.61px;">1.61</div>
<div class="t" style="left:33.40px;top:341.67px;">1.87</div>
<div class="t" style="left:33.40px;top:383.73px;">2.14</div>
<div class="t" style="left:33.40px;top:425.79px;">2.41</div>
<div class="t" style="left:33.40px;top:469.00px;">2.68</div>
<div class="t" style="left:77.60px;top:487.00px;">200</div>
<div class="t" style="left:197.00px;top:487.00px;">500</div>
<div class="t" style="left:292.20px;top:487.00px;">1k</div>
<div class="t" style="left:381.70px;top:487.00px;">2k</div>
<div class="t" style="left:499.90px;top:487.00px;">5k</div>
<div class="t" style="left:584.90px;top:487.00px;">10k</div>
<div class="t" style="left:735.50px;top:47.30px;">-0.0 dB</div>
<div class="t" style="left:735.50px;top:89.36px;">-2.5</div>
<div class="t" style="left:735.50px;top:131.42px;">-5.0</div>
<div class="t" style="left:735.50px;top:173.48px;">-7.5</div>
<div class="t" style="left:735.50px;top:215.54px;">-10.0</div>
<div class="t" style="left:735.50px;top:257.60px;">-12.5</div>
<div class="t" style="left:735.50px;top:299.66px;">-15.0</div>
<div class="t" style="left:735.50px;top:341.72px;">-17.5</div>
<div class="t" style="left:735.50px;top:383.78px;">-20.0</div>
<div class="t" style="left:735.50px;top:425.84px;">-22.5</div>
<div class="t" style="left:735.50px;top:468.80px;">-25.0</div>
<div class="t" style="left:692.00px;top:55.90px;">A</div>
<div class="t" style="left:691.50px;top:71.95px;">R</div>
<div class="t" style="left:692.50px;top:88.00px;">T</div>
<div class="t" style="left:692.00px;top:104.05px;">A</div>
<div class="t" style="left:583.04px;top:504.80px;transform:scaleX(0.9593);">Frequency (Hz)</div>
<div class="t" style="left:63.99px;top:530.06px;font-size:15px;transform:scaleX(0.9717);">Sonogram D2608 91300</div>
</body></html>
